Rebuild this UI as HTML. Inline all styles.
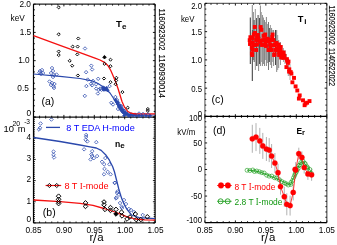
<!DOCTYPE html>
<html><head><meta charset="utf-8"><style>
html,body{margin:0;padding:0;background:#fff;width:337px;height:245px;overflow:hidden}
svg{display:block;will-change:transform}
text{font-family:"Liberation Sans",sans-serif}
</style></head><body>
<svg xmlns="http://www.w3.org/2000/svg" width="337" height="245" viewBox="0 0 337 245">
<rect width="337" height="245" fill="#fff"/>
<line x1="33.5" y1="4.2" x2="155.1" y2="4.2" stroke="#222" stroke-width="1.2"/>
<line x1="33.5" y1="117.1" x2="155.1" y2="117.1" stroke="#111" stroke-width="1.2"/>
<line x1="33.5" y1="222.9" x2="155.1" y2="222.9" stroke="#222" stroke-width="1.2"/>
<line x1="33.5" y1="4.2" x2="33.5" y2="222.9" stroke="#000" stroke-width="1.2"/>
<line x1="155.1" y1="4.2" x2="155.1" y2="222.9" stroke="#000" stroke-width="1.2"/>
<line x1="33.5" y1="117.1" x2="33.5" y2="114.9" stroke="#000" stroke-width="0.9"/>
<line x1="33.5" y1="4.2" x2="33.5" y2="6.4" stroke="#000" stroke-width="0.9"/>
<line x1="39.58" y1="117.1" x2="39.58" y2="115.7" stroke="#000" stroke-width="0.9"/>
<line x1="39.58" y1="4.2" x2="39.58" y2="5.6" stroke="#000" stroke-width="0.9"/>
<line x1="45.66" y1="117.1" x2="45.66" y2="115.7" stroke="#000" stroke-width="0.9"/>
<line x1="45.66" y1="4.2" x2="45.66" y2="5.6" stroke="#000" stroke-width="0.9"/>
<line x1="51.74" y1="117.1" x2="51.74" y2="115.7" stroke="#000" stroke-width="0.9"/>
<line x1="51.74" y1="4.2" x2="51.74" y2="5.6" stroke="#000" stroke-width="0.9"/>
<line x1="57.82" y1="117.1" x2="57.82" y2="115.7" stroke="#000" stroke-width="0.9"/>
<line x1="57.82" y1="4.2" x2="57.82" y2="5.6" stroke="#000" stroke-width="0.9"/>
<line x1="63.9" y1="117.1" x2="63.9" y2="114.9" stroke="#000" stroke-width="0.9"/>
<line x1="63.9" y1="4.2" x2="63.9" y2="6.4" stroke="#000" stroke-width="0.9"/>
<line x1="69.98" y1="117.1" x2="69.98" y2="115.7" stroke="#000" stroke-width="0.9"/>
<line x1="69.98" y1="4.2" x2="69.98" y2="5.6" stroke="#000" stroke-width="0.9"/>
<line x1="76.06" y1="117.1" x2="76.06" y2="115.7" stroke="#000" stroke-width="0.9"/>
<line x1="76.06" y1="4.2" x2="76.06" y2="5.6" stroke="#000" stroke-width="0.9"/>
<line x1="82.14" y1="117.1" x2="82.14" y2="115.7" stroke="#000" stroke-width="0.9"/>
<line x1="82.14" y1="4.2" x2="82.14" y2="5.6" stroke="#000" stroke-width="0.9"/>
<line x1="88.22" y1="117.1" x2="88.22" y2="115.7" stroke="#000" stroke-width="0.9"/>
<line x1="88.22" y1="4.2" x2="88.22" y2="5.6" stroke="#000" stroke-width="0.9"/>
<line x1="94.3" y1="117.1" x2="94.3" y2="114.9" stroke="#000" stroke-width="0.9"/>
<line x1="94.3" y1="4.2" x2="94.3" y2="6.4" stroke="#000" stroke-width="0.9"/>
<line x1="100.38" y1="117.1" x2="100.38" y2="115.7" stroke="#000" stroke-width="0.9"/>
<line x1="100.38" y1="4.2" x2="100.38" y2="5.6" stroke="#000" stroke-width="0.9"/>
<line x1="106.46" y1="117.1" x2="106.46" y2="115.7" stroke="#000" stroke-width="0.9"/>
<line x1="106.46" y1="4.2" x2="106.46" y2="5.6" stroke="#000" stroke-width="0.9"/>
<line x1="112.54" y1="117.1" x2="112.54" y2="115.7" stroke="#000" stroke-width="0.9"/>
<line x1="112.54" y1="4.2" x2="112.54" y2="5.6" stroke="#000" stroke-width="0.9"/>
<line x1="118.62" y1="117.1" x2="118.62" y2="115.7" stroke="#000" stroke-width="0.9"/>
<line x1="118.62" y1="4.2" x2="118.62" y2="5.6" stroke="#000" stroke-width="0.9"/>
<line x1="124.7" y1="117.1" x2="124.7" y2="114.9" stroke="#000" stroke-width="0.9"/>
<line x1="124.7" y1="4.2" x2="124.7" y2="6.4" stroke="#000" stroke-width="0.9"/>
<line x1="130.78" y1="117.1" x2="130.78" y2="115.7" stroke="#000" stroke-width="0.9"/>
<line x1="130.78" y1="4.2" x2="130.78" y2="5.6" stroke="#000" stroke-width="0.9"/>
<line x1="136.86" y1="117.1" x2="136.86" y2="115.7" stroke="#000" stroke-width="0.9"/>
<line x1="136.86" y1="4.2" x2="136.86" y2="5.6" stroke="#000" stroke-width="0.9"/>
<line x1="142.94" y1="117.1" x2="142.94" y2="115.7" stroke="#000" stroke-width="0.9"/>
<line x1="142.94" y1="4.2" x2="142.94" y2="5.6" stroke="#000" stroke-width="0.9"/>
<line x1="149.02" y1="117.1" x2="149.02" y2="115.7" stroke="#000" stroke-width="0.9"/>
<line x1="149.02" y1="4.2" x2="149.02" y2="5.6" stroke="#000" stroke-width="0.9"/>
<line x1="155.1" y1="117.1" x2="155.1" y2="114.9" stroke="#000" stroke-width="0.9"/>
<line x1="155.1" y1="4.2" x2="155.1" y2="6.4" stroke="#000" stroke-width="0.9"/>
<line x1="33.5" y1="222.9" x2="33.5" y2="220.7" stroke="#000" stroke-width="0.9"/>
<line x1="33.5" y1="117.1" x2="33.5" y2="119.3" stroke="#000" stroke-width="0.9"/>
<line x1="39.58" y1="222.9" x2="39.58" y2="221.5" stroke="#000" stroke-width="0.9"/>
<line x1="39.58" y1="117.1" x2="39.58" y2="118.5" stroke="#000" stroke-width="0.9"/>
<line x1="45.66" y1="222.9" x2="45.66" y2="221.5" stroke="#000" stroke-width="0.9"/>
<line x1="45.66" y1="117.1" x2="45.66" y2="118.5" stroke="#000" stroke-width="0.9"/>
<line x1="51.74" y1="222.9" x2="51.74" y2="221.5" stroke="#000" stroke-width="0.9"/>
<line x1="51.74" y1="117.1" x2="51.74" y2="118.5" stroke="#000" stroke-width="0.9"/>
<line x1="57.82" y1="222.9" x2="57.82" y2="221.5" stroke="#000" stroke-width="0.9"/>
<line x1="57.82" y1="117.1" x2="57.82" y2="118.5" stroke="#000" stroke-width="0.9"/>
<line x1="63.9" y1="222.9" x2="63.9" y2="220.7" stroke="#000" stroke-width="0.9"/>
<line x1="63.9" y1="117.1" x2="63.9" y2="119.3" stroke="#000" stroke-width="0.9"/>
<line x1="69.98" y1="222.9" x2="69.98" y2="221.5" stroke="#000" stroke-width="0.9"/>
<line x1="69.98" y1="117.1" x2="69.98" y2="118.5" stroke="#000" stroke-width="0.9"/>
<line x1="76.06" y1="222.9" x2="76.06" y2="221.5" stroke="#000" stroke-width="0.9"/>
<line x1="76.06" y1="117.1" x2="76.06" y2="118.5" stroke="#000" stroke-width="0.9"/>
<line x1="82.14" y1="222.9" x2="82.14" y2="221.5" stroke="#000" stroke-width="0.9"/>
<line x1="82.14" y1="117.1" x2="82.14" y2="118.5" stroke="#000" stroke-width="0.9"/>
<line x1="88.22" y1="222.9" x2="88.22" y2="221.5" stroke="#000" stroke-width="0.9"/>
<line x1="88.22" y1="117.1" x2="88.22" y2="118.5" stroke="#000" stroke-width="0.9"/>
<line x1="94.3" y1="222.9" x2="94.3" y2="220.7" stroke="#000" stroke-width="0.9"/>
<line x1="94.3" y1="117.1" x2="94.3" y2="119.3" stroke="#000" stroke-width="0.9"/>
<line x1="100.38" y1="222.9" x2="100.38" y2="221.5" stroke="#000" stroke-width="0.9"/>
<line x1="100.38" y1="117.1" x2="100.38" y2="118.5" stroke="#000" stroke-width="0.9"/>
<line x1="106.46" y1="222.9" x2="106.46" y2="221.5" stroke="#000" stroke-width="0.9"/>
<line x1="106.46" y1="117.1" x2="106.46" y2="118.5" stroke="#000" stroke-width="0.9"/>
<line x1="112.54" y1="222.9" x2="112.54" y2="221.5" stroke="#000" stroke-width="0.9"/>
<line x1="112.54" y1="117.1" x2="112.54" y2="118.5" stroke="#000" stroke-width="0.9"/>
<line x1="118.62" y1="222.9" x2="118.62" y2="221.5" stroke="#000" stroke-width="0.9"/>
<line x1="118.62" y1="117.1" x2="118.62" y2="118.5" stroke="#000" stroke-width="0.9"/>
<line x1="124.7" y1="222.9" x2="124.7" y2="220.7" stroke="#000" stroke-width="0.9"/>
<line x1="124.7" y1="117.1" x2="124.7" y2="119.3" stroke="#000" stroke-width="0.9"/>
<line x1="130.78" y1="222.9" x2="130.78" y2="221.5" stroke="#000" stroke-width="0.9"/>
<line x1="130.78" y1="117.1" x2="130.78" y2="118.5" stroke="#000" stroke-width="0.9"/>
<line x1="136.86" y1="222.9" x2="136.86" y2="221.5" stroke="#000" stroke-width="0.9"/>
<line x1="136.86" y1="117.1" x2="136.86" y2="118.5" stroke="#000" stroke-width="0.9"/>
<line x1="142.94" y1="222.9" x2="142.94" y2="221.5" stroke="#000" stroke-width="0.9"/>
<line x1="142.94" y1="117.1" x2="142.94" y2="118.5" stroke="#000" stroke-width="0.9"/>
<line x1="149.02" y1="222.9" x2="149.02" y2="221.5" stroke="#000" stroke-width="0.9"/>
<line x1="149.02" y1="117.1" x2="149.02" y2="118.5" stroke="#000" stroke-width="0.9"/>
<line x1="155.1" y1="222.9" x2="155.1" y2="220.7" stroke="#000" stroke-width="0.9"/>
<line x1="155.1" y1="117.1" x2="155.1" y2="119.3" stroke="#000" stroke-width="0.9"/>
<line x1="33.5" y1="4.2" x2="35.7" y2="4.2" stroke="#000" stroke-width="0.9"/>
<line x1="155.1" y1="4.2" x2="152.9" y2="4.2" stroke="#000" stroke-width="0.9"/>
<line x1="33.5" y1="9.84" x2="34.9" y2="9.84" stroke="#000" stroke-width="0.9"/>
<line x1="155.1" y1="9.84" x2="153.7" y2="9.84" stroke="#000" stroke-width="0.9"/>
<line x1="33.5" y1="15.49" x2="34.9" y2="15.49" stroke="#000" stroke-width="0.9"/>
<line x1="155.1" y1="15.49" x2="153.7" y2="15.49" stroke="#000" stroke-width="0.9"/>
<line x1="33.5" y1="21.13" x2="34.9" y2="21.13" stroke="#000" stroke-width="0.9"/>
<line x1="155.1" y1="21.13" x2="153.7" y2="21.13" stroke="#000" stroke-width="0.9"/>
<line x1="33.5" y1="26.78" x2="34.9" y2="26.78" stroke="#000" stroke-width="0.9"/>
<line x1="155.1" y1="26.78" x2="153.7" y2="26.78" stroke="#000" stroke-width="0.9"/>
<line x1="33.5" y1="32.43" x2="35.7" y2="32.43" stroke="#000" stroke-width="0.9"/>
<line x1="155.1" y1="32.43" x2="152.9" y2="32.43" stroke="#000" stroke-width="0.9"/>
<line x1="33.5" y1="38.07" x2="34.9" y2="38.07" stroke="#000" stroke-width="0.9"/>
<line x1="155.1" y1="38.07" x2="153.7" y2="38.07" stroke="#000" stroke-width="0.9"/>
<line x1="33.5" y1="43.72" x2="34.9" y2="43.72" stroke="#000" stroke-width="0.9"/>
<line x1="155.1" y1="43.72" x2="153.7" y2="43.72" stroke="#000" stroke-width="0.9"/>
<line x1="33.5" y1="49.36" x2="34.9" y2="49.36" stroke="#000" stroke-width="0.9"/>
<line x1="155.1" y1="49.36" x2="153.7" y2="49.36" stroke="#000" stroke-width="0.9"/>
<line x1="33.5" y1="55" x2="34.9" y2="55" stroke="#000" stroke-width="0.9"/>
<line x1="155.1" y1="55" x2="153.7" y2="55" stroke="#000" stroke-width="0.9"/>
<line x1="33.5" y1="60.65" x2="35.7" y2="60.65" stroke="#000" stroke-width="0.9"/>
<line x1="155.1" y1="60.65" x2="152.9" y2="60.65" stroke="#000" stroke-width="0.9"/>
<line x1="33.5" y1="66.29" x2="34.9" y2="66.29" stroke="#000" stroke-width="0.9"/>
<line x1="155.1" y1="66.29" x2="153.7" y2="66.29" stroke="#000" stroke-width="0.9"/>
<line x1="33.5" y1="71.94" x2="34.9" y2="71.94" stroke="#000" stroke-width="0.9"/>
<line x1="155.1" y1="71.94" x2="153.7" y2="71.94" stroke="#000" stroke-width="0.9"/>
<line x1="33.5" y1="77.58" x2="34.9" y2="77.58" stroke="#000" stroke-width="0.9"/>
<line x1="155.1" y1="77.58" x2="153.7" y2="77.58" stroke="#000" stroke-width="0.9"/>
<line x1="33.5" y1="83.23" x2="34.9" y2="83.23" stroke="#000" stroke-width="0.9"/>
<line x1="155.1" y1="83.23" x2="153.7" y2="83.23" stroke="#000" stroke-width="0.9"/>
<line x1="33.5" y1="88.87" x2="35.7" y2="88.87" stroke="#000" stroke-width="0.9"/>
<line x1="155.1" y1="88.87" x2="152.9" y2="88.87" stroke="#000" stroke-width="0.9"/>
<line x1="33.5" y1="94.52" x2="34.9" y2="94.52" stroke="#000" stroke-width="0.9"/>
<line x1="155.1" y1="94.52" x2="153.7" y2="94.52" stroke="#000" stroke-width="0.9"/>
<line x1="33.5" y1="100.17" x2="34.9" y2="100.17" stroke="#000" stroke-width="0.9"/>
<line x1="155.1" y1="100.17" x2="153.7" y2="100.17" stroke="#000" stroke-width="0.9"/>
<line x1="33.5" y1="105.81" x2="34.9" y2="105.81" stroke="#000" stroke-width="0.9"/>
<line x1="155.1" y1="105.81" x2="153.7" y2="105.81" stroke="#000" stroke-width="0.9"/>
<line x1="33.5" y1="111.45" x2="34.9" y2="111.45" stroke="#000" stroke-width="0.9"/>
<line x1="155.1" y1="111.45" x2="153.7" y2="111.45" stroke="#000" stroke-width="0.9"/>
<line x1="33.5" y1="117.1" x2="35.7" y2="117.1" stroke="#000" stroke-width="0.9"/>
<line x1="155.1" y1="117.1" x2="152.9" y2="117.1" stroke="#000" stroke-width="0.9"/>
<line x1="33.5" y1="117.1" x2="35.7" y2="117.1" stroke="#000" stroke-width="0.9"/>
<line x1="155.1" y1="117.1" x2="152.9" y2="117.1" stroke="#000" stroke-width="0.9"/>
<line x1="33.5" y1="119.22" x2="34.9" y2="119.22" stroke="#000" stroke-width="0.9"/>
<line x1="155.1" y1="119.22" x2="153.7" y2="119.22" stroke="#000" stroke-width="0.9"/>
<line x1="33.5" y1="121.33" x2="34.9" y2="121.33" stroke="#000" stroke-width="0.9"/>
<line x1="155.1" y1="121.33" x2="153.7" y2="121.33" stroke="#000" stroke-width="0.9"/>
<line x1="33.5" y1="123.45" x2="34.9" y2="123.45" stroke="#000" stroke-width="0.9"/>
<line x1="155.1" y1="123.45" x2="153.7" y2="123.45" stroke="#000" stroke-width="0.9"/>
<line x1="33.5" y1="125.56" x2="34.9" y2="125.56" stroke="#000" stroke-width="0.9"/>
<line x1="155.1" y1="125.56" x2="153.7" y2="125.56" stroke="#000" stroke-width="0.9"/>
<line x1="33.5" y1="127.68" x2="34.9" y2="127.68" stroke="#000" stroke-width="0.9"/>
<line x1="155.1" y1="127.68" x2="153.7" y2="127.68" stroke="#000" stroke-width="0.9"/>
<line x1="33.5" y1="129.8" x2="34.9" y2="129.8" stroke="#000" stroke-width="0.9"/>
<line x1="155.1" y1="129.8" x2="153.7" y2="129.8" stroke="#000" stroke-width="0.9"/>
<line x1="33.5" y1="131.91" x2="34.9" y2="131.91" stroke="#000" stroke-width="0.9"/>
<line x1="155.1" y1="131.91" x2="153.7" y2="131.91" stroke="#000" stroke-width="0.9"/>
<line x1="33.5" y1="134.03" x2="34.9" y2="134.03" stroke="#000" stroke-width="0.9"/>
<line x1="155.1" y1="134.03" x2="153.7" y2="134.03" stroke="#000" stroke-width="0.9"/>
<line x1="33.5" y1="136.14" x2="34.9" y2="136.14" stroke="#000" stroke-width="0.9"/>
<line x1="155.1" y1="136.14" x2="153.7" y2="136.14" stroke="#000" stroke-width="0.9"/>
<line x1="33.5" y1="138.26" x2="35.7" y2="138.26" stroke="#000" stroke-width="0.9"/>
<line x1="155.1" y1="138.26" x2="152.9" y2="138.26" stroke="#000" stroke-width="0.9"/>
<line x1="33.5" y1="140.38" x2="34.9" y2="140.38" stroke="#000" stroke-width="0.9"/>
<line x1="155.1" y1="140.38" x2="153.7" y2="140.38" stroke="#000" stroke-width="0.9"/>
<line x1="33.5" y1="142.49" x2="34.9" y2="142.49" stroke="#000" stroke-width="0.9"/>
<line x1="155.1" y1="142.49" x2="153.7" y2="142.49" stroke="#000" stroke-width="0.9"/>
<line x1="33.5" y1="144.61" x2="34.9" y2="144.61" stroke="#000" stroke-width="0.9"/>
<line x1="155.1" y1="144.61" x2="153.7" y2="144.61" stroke="#000" stroke-width="0.9"/>
<line x1="33.5" y1="146.72" x2="34.9" y2="146.72" stroke="#000" stroke-width="0.9"/>
<line x1="155.1" y1="146.72" x2="153.7" y2="146.72" stroke="#000" stroke-width="0.9"/>
<line x1="33.5" y1="148.84" x2="34.9" y2="148.84" stroke="#000" stroke-width="0.9"/>
<line x1="155.1" y1="148.84" x2="153.7" y2="148.84" stroke="#000" stroke-width="0.9"/>
<line x1="33.5" y1="150.96" x2="34.9" y2="150.96" stroke="#000" stroke-width="0.9"/>
<line x1="155.1" y1="150.96" x2="153.7" y2="150.96" stroke="#000" stroke-width="0.9"/>
<line x1="33.5" y1="153.07" x2="34.9" y2="153.07" stroke="#000" stroke-width="0.9"/>
<line x1="155.1" y1="153.07" x2="153.7" y2="153.07" stroke="#000" stroke-width="0.9"/>
<line x1="33.5" y1="155.19" x2="34.9" y2="155.19" stroke="#000" stroke-width="0.9"/>
<line x1="155.1" y1="155.19" x2="153.7" y2="155.19" stroke="#000" stroke-width="0.9"/>
<line x1="33.5" y1="157.3" x2="34.9" y2="157.3" stroke="#000" stroke-width="0.9"/>
<line x1="155.1" y1="157.3" x2="153.7" y2="157.3" stroke="#000" stroke-width="0.9"/>
<line x1="33.5" y1="159.42" x2="35.7" y2="159.42" stroke="#000" stroke-width="0.9"/>
<line x1="155.1" y1="159.42" x2="152.9" y2="159.42" stroke="#000" stroke-width="0.9"/>
<line x1="33.5" y1="161.54" x2="34.9" y2="161.54" stroke="#000" stroke-width="0.9"/>
<line x1="155.1" y1="161.54" x2="153.7" y2="161.54" stroke="#000" stroke-width="0.9"/>
<line x1="33.5" y1="163.65" x2="34.9" y2="163.65" stroke="#000" stroke-width="0.9"/>
<line x1="155.1" y1="163.65" x2="153.7" y2="163.65" stroke="#000" stroke-width="0.9"/>
<line x1="33.5" y1="165.77" x2="34.9" y2="165.77" stroke="#000" stroke-width="0.9"/>
<line x1="155.1" y1="165.77" x2="153.7" y2="165.77" stroke="#000" stroke-width="0.9"/>
<line x1="33.5" y1="167.88" x2="34.9" y2="167.88" stroke="#000" stroke-width="0.9"/>
<line x1="155.1" y1="167.88" x2="153.7" y2="167.88" stroke="#000" stroke-width="0.9"/>
<line x1="33.5" y1="170" x2="34.9" y2="170" stroke="#000" stroke-width="0.9"/>
<line x1="155.1" y1="170" x2="153.7" y2="170" stroke="#000" stroke-width="0.9"/>
<line x1="33.5" y1="172.12" x2="34.9" y2="172.12" stroke="#000" stroke-width="0.9"/>
<line x1="155.1" y1="172.12" x2="153.7" y2="172.12" stroke="#000" stroke-width="0.9"/>
<line x1="33.5" y1="174.23" x2="34.9" y2="174.23" stroke="#000" stroke-width="0.9"/>
<line x1="155.1" y1="174.23" x2="153.7" y2="174.23" stroke="#000" stroke-width="0.9"/>
<line x1="33.5" y1="176.35" x2="34.9" y2="176.35" stroke="#000" stroke-width="0.9"/>
<line x1="155.1" y1="176.35" x2="153.7" y2="176.35" stroke="#000" stroke-width="0.9"/>
<line x1="33.5" y1="178.46" x2="34.9" y2="178.46" stroke="#000" stroke-width="0.9"/>
<line x1="155.1" y1="178.46" x2="153.7" y2="178.46" stroke="#000" stroke-width="0.9"/>
<line x1="33.5" y1="180.58" x2="35.7" y2="180.58" stroke="#000" stroke-width="0.9"/>
<line x1="155.1" y1="180.58" x2="152.9" y2="180.58" stroke="#000" stroke-width="0.9"/>
<line x1="33.5" y1="182.7" x2="34.9" y2="182.7" stroke="#000" stroke-width="0.9"/>
<line x1="155.1" y1="182.7" x2="153.7" y2="182.7" stroke="#000" stroke-width="0.9"/>
<line x1="33.5" y1="184.81" x2="34.9" y2="184.81" stroke="#000" stroke-width="0.9"/>
<line x1="155.1" y1="184.81" x2="153.7" y2="184.81" stroke="#000" stroke-width="0.9"/>
<line x1="33.5" y1="186.93" x2="34.9" y2="186.93" stroke="#000" stroke-width="0.9"/>
<line x1="155.1" y1="186.93" x2="153.7" y2="186.93" stroke="#000" stroke-width="0.9"/>
<line x1="33.5" y1="189.04" x2="34.9" y2="189.04" stroke="#000" stroke-width="0.9"/>
<line x1="155.1" y1="189.04" x2="153.7" y2="189.04" stroke="#000" stroke-width="0.9"/>
<line x1="33.5" y1="191.16" x2="34.9" y2="191.16" stroke="#000" stroke-width="0.9"/>
<line x1="155.1" y1="191.16" x2="153.7" y2="191.16" stroke="#000" stroke-width="0.9"/>
<line x1="33.5" y1="193.28" x2="34.9" y2="193.28" stroke="#000" stroke-width="0.9"/>
<line x1="155.1" y1="193.28" x2="153.7" y2="193.28" stroke="#000" stroke-width="0.9"/>
<line x1="33.5" y1="195.39" x2="34.9" y2="195.39" stroke="#000" stroke-width="0.9"/>
<line x1="155.1" y1="195.39" x2="153.7" y2="195.39" stroke="#000" stroke-width="0.9"/>
<line x1="33.5" y1="197.51" x2="34.9" y2="197.51" stroke="#000" stroke-width="0.9"/>
<line x1="155.1" y1="197.51" x2="153.7" y2="197.51" stroke="#000" stroke-width="0.9"/>
<line x1="33.5" y1="199.62" x2="34.9" y2="199.62" stroke="#000" stroke-width="0.9"/>
<line x1="155.1" y1="199.62" x2="153.7" y2="199.62" stroke="#000" stroke-width="0.9"/>
<line x1="33.5" y1="201.74" x2="35.7" y2="201.74" stroke="#000" stroke-width="0.9"/>
<line x1="155.1" y1="201.74" x2="152.9" y2="201.74" stroke="#000" stroke-width="0.9"/>
<line x1="33.5" y1="203.86" x2="34.9" y2="203.86" stroke="#000" stroke-width="0.9"/>
<line x1="155.1" y1="203.86" x2="153.7" y2="203.86" stroke="#000" stroke-width="0.9"/>
<line x1="33.5" y1="205.97" x2="34.9" y2="205.97" stroke="#000" stroke-width="0.9"/>
<line x1="155.1" y1="205.97" x2="153.7" y2="205.97" stroke="#000" stroke-width="0.9"/>
<line x1="33.5" y1="208.09" x2="34.9" y2="208.09" stroke="#000" stroke-width="0.9"/>
<line x1="155.1" y1="208.09" x2="153.7" y2="208.09" stroke="#000" stroke-width="0.9"/>
<line x1="33.5" y1="210.2" x2="34.9" y2="210.2" stroke="#000" stroke-width="0.9"/>
<line x1="155.1" y1="210.2" x2="153.7" y2="210.2" stroke="#000" stroke-width="0.9"/>
<line x1="33.5" y1="212.32" x2="34.9" y2="212.32" stroke="#000" stroke-width="0.9"/>
<line x1="155.1" y1="212.32" x2="153.7" y2="212.32" stroke="#000" stroke-width="0.9"/>
<line x1="33.5" y1="214.44" x2="34.9" y2="214.44" stroke="#000" stroke-width="0.9"/>
<line x1="155.1" y1="214.44" x2="153.7" y2="214.44" stroke="#000" stroke-width="0.9"/>
<line x1="33.5" y1="216.55" x2="34.9" y2="216.55" stroke="#000" stroke-width="0.9"/>
<line x1="155.1" y1="216.55" x2="153.7" y2="216.55" stroke="#000" stroke-width="0.9"/>
<line x1="33.5" y1="218.67" x2="34.9" y2="218.67" stroke="#000" stroke-width="0.9"/>
<line x1="155.1" y1="218.67" x2="153.7" y2="218.67" stroke="#000" stroke-width="0.9"/>
<line x1="33.5" y1="220.78" x2="34.9" y2="220.78" stroke="#000" stroke-width="0.9"/>
<line x1="155.1" y1="220.78" x2="153.7" y2="220.78" stroke="#000" stroke-width="0.9"/>
<line x1="33.5" y1="222.9" x2="35.7" y2="222.9" stroke="#000" stroke-width="0.9"/>
<line x1="155.1" y1="222.9" x2="152.9" y2="222.9" stroke="#000" stroke-width="0.9"/>
<line x1="204.9" y1="3.4" x2="326.8" y2="3.4" stroke="#666" stroke-width="1.3"/>
<line x1="204.9" y1="116.4" x2="326.8" y2="116.4" stroke="#000" stroke-width="1.2"/>
<line x1="204.9" y1="222.6" x2="326.8" y2="222.6" stroke="#000" stroke-width="1.2"/>
<line x1="204.9" y1="3.4" x2="204.9" y2="222.6" stroke="#888" stroke-width="1.5"/>
<line x1="326.8" y1="3.4" x2="326.8" y2="222.6" stroke="#777" stroke-width="1.5"/>
<line x1="204.9" y1="116.4" x2="204.9" y2="114.2" stroke="#000" stroke-width="0.9"/>
<line x1="204.9" y1="3.4" x2="204.9" y2="5.6" stroke="#000" stroke-width="0.9"/>
<line x1="211" y1="116.4" x2="211" y2="115" stroke="#000" stroke-width="0.9"/>
<line x1="211" y1="3.4" x2="211" y2="4.8" stroke="#000" stroke-width="0.9"/>
<line x1="217.09" y1="116.4" x2="217.09" y2="115" stroke="#000" stroke-width="0.9"/>
<line x1="217.09" y1="3.4" x2="217.09" y2="4.8" stroke="#000" stroke-width="0.9"/>
<line x1="223.19" y1="116.4" x2="223.19" y2="115" stroke="#000" stroke-width="0.9"/>
<line x1="223.19" y1="3.4" x2="223.19" y2="4.8" stroke="#000" stroke-width="0.9"/>
<line x1="229.28" y1="116.4" x2="229.28" y2="115" stroke="#000" stroke-width="0.9"/>
<line x1="229.28" y1="3.4" x2="229.28" y2="4.8" stroke="#000" stroke-width="0.9"/>
<line x1="235.38" y1="116.4" x2="235.38" y2="114.2" stroke="#000" stroke-width="0.9"/>
<line x1="235.38" y1="3.4" x2="235.38" y2="5.6" stroke="#000" stroke-width="0.9"/>
<line x1="241.47" y1="116.4" x2="241.47" y2="115" stroke="#000" stroke-width="0.9"/>
<line x1="241.47" y1="3.4" x2="241.47" y2="4.8" stroke="#000" stroke-width="0.9"/>
<line x1="247.56" y1="116.4" x2="247.56" y2="115" stroke="#000" stroke-width="0.9"/>
<line x1="247.56" y1="3.4" x2="247.56" y2="4.8" stroke="#000" stroke-width="0.9"/>
<line x1="253.66" y1="116.4" x2="253.66" y2="115" stroke="#000" stroke-width="0.9"/>
<line x1="253.66" y1="3.4" x2="253.66" y2="4.8" stroke="#000" stroke-width="0.9"/>
<line x1="259.75" y1="116.4" x2="259.75" y2="115" stroke="#000" stroke-width="0.9"/>
<line x1="259.75" y1="3.4" x2="259.75" y2="4.8" stroke="#000" stroke-width="0.9"/>
<line x1="265.85" y1="116.4" x2="265.85" y2="114.2" stroke="#000" stroke-width="0.9"/>
<line x1="265.85" y1="3.4" x2="265.85" y2="5.6" stroke="#000" stroke-width="0.9"/>
<line x1="271.94" y1="116.4" x2="271.94" y2="115" stroke="#000" stroke-width="0.9"/>
<line x1="271.94" y1="3.4" x2="271.94" y2="4.8" stroke="#000" stroke-width="0.9"/>
<line x1="278.04" y1="116.4" x2="278.04" y2="115" stroke="#000" stroke-width="0.9"/>
<line x1="278.04" y1="3.4" x2="278.04" y2="4.8" stroke="#000" stroke-width="0.9"/>
<line x1="284.13" y1="116.4" x2="284.13" y2="115" stroke="#000" stroke-width="0.9"/>
<line x1="284.13" y1="3.4" x2="284.13" y2="4.8" stroke="#000" stroke-width="0.9"/>
<line x1="290.23" y1="116.4" x2="290.23" y2="115" stroke="#000" stroke-width="0.9"/>
<line x1="290.23" y1="3.4" x2="290.23" y2="4.8" stroke="#000" stroke-width="0.9"/>
<line x1="296.32" y1="116.4" x2="296.32" y2="114.2" stroke="#000" stroke-width="0.9"/>
<line x1="296.32" y1="3.4" x2="296.32" y2="5.6" stroke="#000" stroke-width="0.9"/>
<line x1="302.42" y1="116.4" x2="302.42" y2="115" stroke="#000" stroke-width="0.9"/>
<line x1="302.42" y1="3.4" x2="302.42" y2="4.8" stroke="#000" stroke-width="0.9"/>
<line x1="308.51" y1="116.4" x2="308.51" y2="115" stroke="#000" stroke-width="0.9"/>
<line x1="308.51" y1="3.4" x2="308.51" y2="4.8" stroke="#000" stroke-width="0.9"/>
<line x1="314.61" y1="116.4" x2="314.61" y2="115" stroke="#000" stroke-width="0.9"/>
<line x1="314.61" y1="3.4" x2="314.61" y2="4.8" stroke="#000" stroke-width="0.9"/>
<line x1="320.7" y1="116.4" x2="320.7" y2="115" stroke="#000" stroke-width="0.9"/>
<line x1="320.7" y1="3.4" x2="320.7" y2="4.8" stroke="#000" stroke-width="0.9"/>
<line x1="326.8" y1="116.4" x2="326.8" y2="114.2" stroke="#000" stroke-width="0.9"/>
<line x1="326.8" y1="3.4" x2="326.8" y2="5.6" stroke="#000" stroke-width="0.9"/>
<line x1="204.9" y1="222.6" x2="204.9" y2="220.4" stroke="#000" stroke-width="0.9"/>
<line x1="204.9" y1="116.4" x2="204.9" y2="118.6" stroke="#000" stroke-width="0.9"/>
<line x1="211" y1="222.6" x2="211" y2="221.2" stroke="#000" stroke-width="0.9"/>
<line x1="211" y1="116.4" x2="211" y2="117.8" stroke="#000" stroke-width="0.9"/>
<line x1="217.09" y1="222.6" x2="217.09" y2="221.2" stroke="#000" stroke-width="0.9"/>
<line x1="217.09" y1="116.4" x2="217.09" y2="117.8" stroke="#000" stroke-width="0.9"/>
<line x1="223.19" y1="222.6" x2="223.19" y2="221.2" stroke="#000" stroke-width="0.9"/>
<line x1="223.19" y1="116.4" x2="223.19" y2="117.8" stroke="#000" stroke-width="0.9"/>
<line x1="229.28" y1="222.6" x2="229.28" y2="221.2" stroke="#000" stroke-width="0.9"/>
<line x1="229.28" y1="116.4" x2="229.28" y2="117.8" stroke="#000" stroke-width="0.9"/>
<line x1="235.38" y1="222.6" x2="235.38" y2="220.4" stroke="#000" stroke-width="0.9"/>
<line x1="235.38" y1="116.4" x2="235.38" y2="118.6" stroke="#000" stroke-width="0.9"/>
<line x1="241.47" y1="222.6" x2="241.47" y2="221.2" stroke="#000" stroke-width="0.9"/>
<line x1="241.47" y1="116.4" x2="241.47" y2="117.8" stroke="#000" stroke-width="0.9"/>
<line x1="247.56" y1="222.6" x2="247.56" y2="221.2" stroke="#000" stroke-width="0.9"/>
<line x1="247.56" y1="116.4" x2="247.56" y2="117.8" stroke="#000" stroke-width="0.9"/>
<line x1="253.66" y1="222.6" x2="253.66" y2="221.2" stroke="#000" stroke-width="0.9"/>
<line x1="253.66" y1="116.4" x2="253.66" y2="117.8" stroke="#000" stroke-width="0.9"/>
<line x1="259.75" y1="222.6" x2="259.75" y2="221.2" stroke="#000" stroke-width="0.9"/>
<line x1="259.75" y1="116.4" x2="259.75" y2="117.8" stroke="#000" stroke-width="0.9"/>
<line x1="265.85" y1="222.6" x2="265.85" y2="220.4" stroke="#000" stroke-width="0.9"/>
<line x1="265.85" y1="116.4" x2="265.85" y2="118.6" stroke="#000" stroke-width="0.9"/>
<line x1="271.94" y1="222.6" x2="271.94" y2="221.2" stroke="#000" stroke-width="0.9"/>
<line x1="271.94" y1="116.4" x2="271.94" y2="117.8" stroke="#000" stroke-width="0.9"/>
<line x1="278.04" y1="222.6" x2="278.04" y2="221.2" stroke="#000" stroke-width="0.9"/>
<line x1="278.04" y1="116.4" x2="278.04" y2="117.8" stroke="#000" stroke-width="0.9"/>
<line x1="284.13" y1="222.6" x2="284.13" y2="221.2" stroke="#000" stroke-width="0.9"/>
<line x1="284.13" y1="116.4" x2="284.13" y2="117.8" stroke="#000" stroke-width="0.9"/>
<line x1="290.23" y1="222.6" x2="290.23" y2="221.2" stroke="#000" stroke-width="0.9"/>
<line x1="290.23" y1="116.4" x2="290.23" y2="117.8" stroke="#000" stroke-width="0.9"/>
<line x1="296.32" y1="222.6" x2="296.32" y2="220.4" stroke="#000" stroke-width="0.9"/>
<line x1="296.32" y1="116.4" x2="296.32" y2="118.6" stroke="#000" stroke-width="0.9"/>
<line x1="302.42" y1="222.6" x2="302.42" y2="221.2" stroke="#000" stroke-width="0.9"/>
<line x1="302.42" y1="116.4" x2="302.42" y2="117.8" stroke="#000" stroke-width="0.9"/>
<line x1="308.51" y1="222.6" x2="308.51" y2="221.2" stroke="#000" stroke-width="0.9"/>
<line x1="308.51" y1="116.4" x2="308.51" y2="117.8" stroke="#000" stroke-width="0.9"/>
<line x1="314.61" y1="222.6" x2="314.61" y2="221.2" stroke="#000" stroke-width="0.9"/>
<line x1="314.61" y1="116.4" x2="314.61" y2="117.8" stroke="#000" stroke-width="0.9"/>
<line x1="320.7" y1="222.6" x2="320.7" y2="221.2" stroke="#000" stroke-width="0.9"/>
<line x1="320.7" y1="116.4" x2="320.7" y2="117.8" stroke="#000" stroke-width="0.9"/>
<line x1="326.8" y1="222.6" x2="326.8" y2="220.4" stroke="#000" stroke-width="0.9"/>
<line x1="326.8" y1="116.4" x2="326.8" y2="118.6" stroke="#000" stroke-width="0.9"/>
<line x1="204.9" y1="3.4" x2="207.1" y2="3.4" stroke="#000" stroke-width="0.9"/>
<line x1="326.8" y1="3.4" x2="324.6" y2="3.4" stroke="#000" stroke-width="0.9"/>
<line x1="204.9" y1="9.05" x2="206.3" y2="9.05" stroke="#000" stroke-width="0.9"/>
<line x1="326.8" y1="9.05" x2="325.4" y2="9.05" stroke="#000" stroke-width="0.9"/>
<line x1="204.9" y1="14.7" x2="206.3" y2="14.7" stroke="#000" stroke-width="0.9"/>
<line x1="326.8" y1="14.7" x2="325.4" y2="14.7" stroke="#000" stroke-width="0.9"/>
<line x1="204.9" y1="20.35" x2="206.3" y2="20.35" stroke="#000" stroke-width="0.9"/>
<line x1="326.8" y1="20.35" x2="325.4" y2="20.35" stroke="#000" stroke-width="0.9"/>
<line x1="204.9" y1="26" x2="206.3" y2="26" stroke="#000" stroke-width="0.9"/>
<line x1="326.8" y1="26" x2="325.4" y2="26" stroke="#000" stroke-width="0.9"/>
<line x1="204.9" y1="31.65" x2="207.1" y2="31.65" stroke="#000" stroke-width="0.9"/>
<line x1="326.8" y1="31.65" x2="324.6" y2="31.65" stroke="#000" stroke-width="0.9"/>
<line x1="204.9" y1="37.3" x2="206.3" y2="37.3" stroke="#000" stroke-width="0.9"/>
<line x1="326.8" y1="37.3" x2="325.4" y2="37.3" stroke="#000" stroke-width="0.9"/>
<line x1="204.9" y1="42.95" x2="206.3" y2="42.95" stroke="#000" stroke-width="0.9"/>
<line x1="326.8" y1="42.95" x2="325.4" y2="42.95" stroke="#000" stroke-width="0.9"/>
<line x1="204.9" y1="48.6" x2="206.3" y2="48.6" stroke="#000" stroke-width="0.9"/>
<line x1="326.8" y1="48.6" x2="325.4" y2="48.6" stroke="#000" stroke-width="0.9"/>
<line x1="204.9" y1="54.25" x2="206.3" y2="54.25" stroke="#000" stroke-width="0.9"/>
<line x1="326.8" y1="54.25" x2="325.4" y2="54.25" stroke="#000" stroke-width="0.9"/>
<line x1="204.9" y1="59.9" x2="207.1" y2="59.9" stroke="#000" stroke-width="0.9"/>
<line x1="326.8" y1="59.9" x2="324.6" y2="59.9" stroke="#000" stroke-width="0.9"/>
<line x1="204.9" y1="65.55" x2="206.3" y2="65.55" stroke="#000" stroke-width="0.9"/>
<line x1="326.8" y1="65.55" x2="325.4" y2="65.55" stroke="#000" stroke-width="0.9"/>
<line x1="204.9" y1="71.2" x2="206.3" y2="71.2" stroke="#000" stroke-width="0.9"/>
<line x1="326.8" y1="71.2" x2="325.4" y2="71.2" stroke="#000" stroke-width="0.9"/>
<line x1="204.9" y1="76.85" x2="206.3" y2="76.85" stroke="#000" stroke-width="0.9"/>
<line x1="326.8" y1="76.85" x2="325.4" y2="76.85" stroke="#000" stroke-width="0.9"/>
<line x1="204.9" y1="82.5" x2="206.3" y2="82.5" stroke="#000" stroke-width="0.9"/>
<line x1="326.8" y1="82.5" x2="325.4" y2="82.5" stroke="#000" stroke-width="0.9"/>
<line x1="204.9" y1="88.15" x2="207.1" y2="88.15" stroke="#000" stroke-width="0.9"/>
<line x1="326.8" y1="88.15" x2="324.6" y2="88.15" stroke="#000" stroke-width="0.9"/>
<line x1="204.9" y1="93.8" x2="206.3" y2="93.8" stroke="#000" stroke-width="0.9"/>
<line x1="326.8" y1="93.8" x2="325.4" y2="93.8" stroke="#000" stroke-width="0.9"/>
<line x1="204.9" y1="99.45" x2="206.3" y2="99.45" stroke="#000" stroke-width="0.9"/>
<line x1="326.8" y1="99.45" x2="325.4" y2="99.45" stroke="#000" stroke-width="0.9"/>
<line x1="204.9" y1="105.1" x2="206.3" y2="105.1" stroke="#000" stroke-width="0.9"/>
<line x1="326.8" y1="105.1" x2="325.4" y2="105.1" stroke="#000" stroke-width="0.9"/>
<line x1="204.9" y1="110.75" x2="206.3" y2="110.75" stroke="#000" stroke-width="0.9"/>
<line x1="326.8" y1="110.75" x2="325.4" y2="110.75" stroke="#000" stroke-width="0.9"/>
<line x1="204.9" y1="116.4" x2="207.1" y2="116.4" stroke="#000" stroke-width="0.9"/>
<line x1="326.8" y1="116.4" x2="324.6" y2="116.4" stroke="#000" stroke-width="0.9"/>
<line x1="204.9" y1="116.4" x2="207.1" y2="116.4" stroke="#000" stroke-width="0.9"/>
<line x1="326.8" y1="116.4" x2="324.6" y2="116.4" stroke="#000" stroke-width="0.9"/>
<line x1="204.9" y1="121.71" x2="206.3" y2="121.71" stroke="#000" stroke-width="0.9"/>
<line x1="326.8" y1="121.71" x2="325.4" y2="121.71" stroke="#000" stroke-width="0.9"/>
<line x1="204.9" y1="127.02" x2="206.3" y2="127.02" stroke="#000" stroke-width="0.9"/>
<line x1="326.8" y1="127.02" x2="325.4" y2="127.02" stroke="#000" stroke-width="0.9"/>
<line x1="204.9" y1="132.33" x2="206.3" y2="132.33" stroke="#000" stroke-width="0.9"/>
<line x1="326.8" y1="132.33" x2="325.4" y2="132.33" stroke="#000" stroke-width="0.9"/>
<line x1="204.9" y1="137.64" x2="206.3" y2="137.64" stroke="#000" stroke-width="0.9"/>
<line x1="326.8" y1="137.64" x2="325.4" y2="137.64" stroke="#000" stroke-width="0.9"/>
<line x1="204.9" y1="142.95" x2="207.1" y2="142.95" stroke="#000" stroke-width="0.9"/>
<line x1="326.8" y1="142.95" x2="324.6" y2="142.95" stroke="#000" stroke-width="0.9"/>
<line x1="204.9" y1="148.26" x2="206.3" y2="148.26" stroke="#000" stroke-width="0.9"/>
<line x1="326.8" y1="148.26" x2="325.4" y2="148.26" stroke="#000" stroke-width="0.9"/>
<line x1="204.9" y1="153.57" x2="206.3" y2="153.57" stroke="#000" stroke-width="0.9"/>
<line x1="326.8" y1="153.57" x2="325.4" y2="153.57" stroke="#000" stroke-width="0.9"/>
<line x1="204.9" y1="158.88" x2="206.3" y2="158.88" stroke="#000" stroke-width="0.9"/>
<line x1="326.8" y1="158.88" x2="325.4" y2="158.88" stroke="#000" stroke-width="0.9"/>
<line x1="204.9" y1="164.19" x2="206.3" y2="164.19" stroke="#000" stroke-width="0.9"/>
<line x1="326.8" y1="164.19" x2="325.4" y2="164.19" stroke="#000" stroke-width="0.9"/>
<line x1="204.9" y1="169.5" x2="207.1" y2="169.5" stroke="#000" stroke-width="0.9"/>
<line x1="326.8" y1="169.5" x2="324.6" y2="169.5" stroke="#000" stroke-width="0.9"/>
<line x1="204.9" y1="174.81" x2="206.3" y2="174.81" stroke="#000" stroke-width="0.9"/>
<line x1="326.8" y1="174.81" x2="325.4" y2="174.81" stroke="#000" stroke-width="0.9"/>
<line x1="204.9" y1="180.12" x2="206.3" y2="180.12" stroke="#000" stroke-width="0.9"/>
<line x1="326.8" y1="180.12" x2="325.4" y2="180.12" stroke="#000" stroke-width="0.9"/>
<line x1="204.9" y1="185.43" x2="206.3" y2="185.43" stroke="#000" stroke-width="0.9"/>
<line x1="326.8" y1="185.43" x2="325.4" y2="185.43" stroke="#000" stroke-width="0.9"/>
<line x1="204.9" y1="190.74" x2="206.3" y2="190.74" stroke="#000" stroke-width="0.9"/>
<line x1="326.8" y1="190.74" x2="325.4" y2="190.74" stroke="#000" stroke-width="0.9"/>
<line x1="204.9" y1="196.05" x2="207.1" y2="196.05" stroke="#000" stroke-width="0.9"/>
<line x1="326.8" y1="196.05" x2="324.6" y2="196.05" stroke="#000" stroke-width="0.9"/>
<line x1="204.9" y1="201.36" x2="206.3" y2="201.36" stroke="#000" stroke-width="0.9"/>
<line x1="326.8" y1="201.36" x2="325.4" y2="201.36" stroke="#000" stroke-width="0.9"/>
<line x1="204.9" y1="206.67" x2="206.3" y2="206.67" stroke="#000" stroke-width="0.9"/>
<line x1="326.8" y1="206.67" x2="325.4" y2="206.67" stroke="#000" stroke-width="0.9"/>
<line x1="204.9" y1="211.98" x2="206.3" y2="211.98" stroke="#000" stroke-width="0.9"/>
<line x1="326.8" y1="211.98" x2="325.4" y2="211.98" stroke="#000" stroke-width="0.9"/>
<line x1="204.9" y1="217.29" x2="206.3" y2="217.29" stroke="#000" stroke-width="0.9"/>
<line x1="326.8" y1="217.29" x2="325.4" y2="217.29" stroke="#000" stroke-width="0.9"/>
<line x1="204.9" y1="222.6" x2="207.1" y2="222.6" stroke="#000" stroke-width="0.9"/>
<line x1="326.8" y1="222.6" x2="324.6" y2="222.6" stroke="#000" stroke-width="0.9"/>
<path d="M33.5 74 L60 76.3 L80 78.5 L92 80.8 L98 83.5 L104.5 87.8 L110 93 L113 97.5 L116 102.5 L119.5 108 L122.5 112 L126 114 L130 114.8 L155 115" fill="none" stroke="#2a48ac" stroke-width="1.2" stroke-linejoin="round" />
<path d="M103 85.7L104.8 87.5L103 89.3L101.2 87.5Z" fill="#2a48ac" stroke="#2a48ac" stroke-width="0.6"/>
<path d="M104.5 86.5L106.3 88.3L104.5 90.1L102.7 88.3Z" fill="#2a48ac" stroke="#2a48ac" stroke-width="0.6"/>
<path d="M106 87.5L107.8 89.3L106 91.1L104.2 89.3Z" fill="#2a48ac" stroke="#2a48ac" stroke-width="0.6"/>
<path d="M107.5 88.4L109.3 90.2L107.5 92L105.7 90.2Z" fill="#2a48ac" stroke="#2a48ac" stroke-width="0.6"/>
<path d="M105 87.7L106.8 89.5L105 91.3L103.2 89.5Z" fill="#2a48ac" stroke="#2a48ac" stroke-width="0.6"/>
<path d="M103.5 87.7L105.3 89.5L103.5 91.3L101.7 89.5Z" fill="#2a48ac" stroke="#2a48ac" stroke-width="0.6"/>
<path d="M106.5 86.2L108.3 88L106.5 89.8L104.7 88Z" fill="#2a48ac" stroke="#2a48ac" stroke-width="0.6"/>
<path d="M115.5 98.2L117.3 100L115.5 101.8L113.7 100Z" fill="#2a48ac" stroke="#2a48ac" stroke-width="0.6"/>
<path d="M116.8 100.2L118.6 102L116.8 103.8L115 102Z" fill="#2a48ac" stroke="#2a48ac" stroke-width="0.6"/>
<path d="M117.8 102.2L119.6 104L117.8 105.8L116 104Z" fill="#2a48ac" stroke="#2a48ac" stroke-width="0.6"/>
<path d="M118.8 104.2L120.6 106L118.8 107.8L117 106Z" fill="#2a48ac" stroke="#2a48ac" stroke-width="0.6"/>
<path d="M119.8 106L121.6 107.8L119.8 109.6L118 107.8Z" fill="#2a48ac" stroke="#2a48ac" stroke-width="0.6"/>
<path d="M120.8 107.6L122.6 109.4L120.8 111.2L119 109.4Z" fill="#2a48ac" stroke="#2a48ac" stroke-width="0.6"/>
<path d="M121.8 109L123.6 110.8L121.8 112.6L120 110.8Z" fill="#2a48ac" stroke="#2a48ac" stroke-width="0.6"/>
<path d="M122.8 110.2L124.6 112L122.8 113.8L121 112Z" fill="#2a48ac" stroke="#2a48ac" stroke-width="0.6"/>
<path d="M118 100.8L119.8 102.6L118 104.4L116.2 102.6Z" fill="#2a48ac" stroke="#2a48ac" stroke-width="0.6"/>
<path d="M120 103.7L121.8 105.5L120 107.3L118.2 105.5Z" fill="#2a48ac" stroke="#2a48ac" stroke-width="0.6"/>
<path d="M121.5 106.2L123.3 108L121.5 109.8L119.7 108Z" fill="#2a48ac" stroke="#2a48ac" stroke-width="0.6"/>
<path d="M123 108.2L124.8 110L123 111.8L121.2 110Z" fill="#2a48ac" stroke="#2a48ac" stroke-width="0.6"/>
<path d="M124.2 111.4L126 113.2L124.2 115L122.4 113.2Z" fill="#2a48ac" stroke="#2a48ac" stroke-width="0.6"/>
<path d="M126 112.4L127.8 114.2L126 116L124.2 114.2Z" fill="#2a48ac" stroke="#2a48ac" stroke-width="0.6"/>
<path d="M128 113L129.8 114.8L128 116.6L126.2 114.8Z" fill="#2a48ac" stroke="#2a48ac" stroke-width="0.6"/>
<path d="M130 113.4L131.8 115.2L130 117L128.2 115.2Z" fill="#2a48ac" stroke="#2a48ac" stroke-width="0.6"/>
<path d="M133 113.6L134.8 115.4L133 117.2L131.2 115.4Z" fill="#2a48ac" stroke="#2a48ac" stroke-width="0.6"/>
<path d="M136 113.7L137.8 115.5L136 117.3L134.2 115.5Z" fill="#2a48ac" stroke="#2a48ac" stroke-width="0.6"/>
<path d="M139 113.8L140.8 115.6L139 117.4L137.2 115.6Z" fill="#2a48ac" stroke="#2a48ac" stroke-width="0.6"/>
<path d="M142 113.8L143.8 115.6L142 117.4L140.2 115.6Z" fill="#2a48ac" stroke="#2a48ac" stroke-width="0.6"/>
<path d="M146 113.9L147.8 115.7L146 117.5L144.2 115.7Z" fill="#2a48ac" stroke="#2a48ac" stroke-width="0.6"/>
<path d="M150 114L151.8 115.8L150 117.6L148.2 115.8Z" fill="#2a48ac" stroke="#2a48ac" stroke-width="0.6"/>
<path d="M125 110.5L126.5 112L125 113.5L123.5 112Z" fill="#2a48ac" stroke="#2a48ac" stroke-width="0.5"/>
<path d="M127 111.5L128.5 113L127 114.5L125.5 113Z" fill="#2a48ac" stroke="#2a48ac" stroke-width="0.5"/>
<path d="M131 112.5L132.5 114L131 115.5L129.5 114Z" fill="#2a48ac" stroke="#2a48ac" stroke-width="0.5"/>
<path d="M135 112.8L136.5 114.3L135 115.8L133.5 114.3Z" fill="#2a48ac" stroke="#2a48ac" stroke-width="0.5"/>
<path d="M124 114L125.5 115.5L124 117L122.5 115.5Z" fill="#2a48ac" stroke="#2a48ac" stroke-width="0.5"/>
<path d="M129 114.5L130.5 116L129 117.5L127.5 116Z" fill="#2a48ac" stroke="#2a48ac" stroke-width="0.5"/>
<path d="M33.5 35.7 L60 45.3 L80 52.6 L95 58.1 L100 60 L104.5 62.4 L108 65.7 L110.8 70.5 L113.5 76.8 L115.9 82.5 L118 88.5 L120 95 L122 101.5 L124.5 107.2 L127.5 111.2 L131 113.2 L135 113.8 L155 113.9" fill="none" stroke="#f41010" stroke-width="1.3" stroke-linejoin="round" />
<path d="M85 46.75L86.75 48.5L85 50.25L83.25 48.5Z" fill="none" stroke="#2a48ac" stroke-width="0.8"/>
<path d="M40 69.25L41.75 71L40 72.75L38.25 71Z" fill="none" stroke="#2a48ac" stroke-width="0.8"/>
<path d="M42 68.25L43.75 70L42 71.75L40.25 70Z" fill="none" stroke="#2a48ac" stroke-width="0.8"/>
<path d="M41 72.25L42.75 74L41 75.75L39.25 74Z" fill="none" stroke="#2a48ac" stroke-width="0.8"/>
<path d="M43 71.25L44.75 73L43 74.75L41.25 73Z" fill="none" stroke="#2a48ac" stroke-width="0.8"/>
<path d="M39.5 70.75L41.25 72.5L39.5 74.25L37.75 72.5Z" fill="none" stroke="#2a48ac" stroke-width="0.8"/>
<path d="M52 66.25L53.75 68L52 69.75L50.25 68Z" fill="none" stroke="#2a48ac" stroke-width="0.8"/>
<path d="M53 69.25L54.75 71L53 72.75L51.25 71Z" fill="none" stroke="#2a48ac" stroke-width="0.8"/>
<path d="M51 71.25L52.75 73L51 74.75L49.25 73Z" fill="none" stroke="#2a48ac" stroke-width="0.8"/>
<path d="M54 73.25L55.75 75L54 76.75L52.25 75Z" fill="none" stroke="#2a48ac" stroke-width="0.8"/>
<path d="M56.5 72.75L58.25 74.5L56.5 76.25L54.75 74.5Z" fill="none" stroke="#2a48ac" stroke-width="0.8"/>
<path d="M53 75.25L54.75 77L53 78.75L51.25 77Z" fill="none" stroke="#2a48ac" stroke-width="0.8"/>
<path d="M49.5 79.75L51.25 81.5L49.5 83.25L47.75 81.5Z" fill="none" stroke="#2a48ac" stroke-width="0.8"/>
<path d="M52 81.25L53.75 83L52 84.75L50.25 83Z" fill="none" stroke="#2a48ac" stroke-width="0.8"/>
<path d="M54.5 82.25L56.25 84L54.5 85.75L52.75 84Z" fill="none" stroke="#2a48ac" stroke-width="0.8"/>
<path d="M51 83.25L52.75 85L51 86.75L49.25 85Z" fill="none" stroke="#2a48ac" stroke-width="0.8"/>
<path d="M53.5 84.75L55.25 86.5L53.5 88.25L51.75 86.5Z" fill="none" stroke="#2a48ac" stroke-width="0.8"/>
<path d="M54 86.25L55.75 88L54 89.75L52.25 88Z" fill="none" stroke="#2a48ac" stroke-width="0.8"/>
<path d="M91.3 63.95L93.05 65.7L91.3 67.45L89.55 65.7Z" fill="none" stroke="#2a48ac" stroke-width="0.8"/>
<path d="M92.1 67.75L93.85 69.5L92.1 71.25L90.35 69.5Z" fill="none" stroke="#2a48ac" stroke-width="0.8"/>
<path d="M86.1 70.45L87.85 72.2L86.1 73.95L84.35 72.2Z" fill="none" stroke="#2a48ac" stroke-width="0.8"/>
<path d="M87.7 77.85L89.45 79.6L87.7 81.35L85.95 79.6Z" fill="none" stroke="#2a48ac" stroke-width="0.8"/>
<path d="M93 79.15L94.75 80.9L93 82.65L91.25 80.9Z" fill="none" stroke="#2a48ac" stroke-width="0.8"/>
<path d="M91 81.95L92.75 83.7L91 85.45L89.25 83.7Z" fill="none" stroke="#2a48ac" stroke-width="0.8"/>
<path d="M92.1 83.55L93.85 85.3L92.1 87.05L90.35 85.3Z" fill="none" stroke="#2a48ac" stroke-width="0.8"/>
<path d="M86.4 84.35L88.15 86.1L86.4 87.85L84.65 86.1Z" fill="none" stroke="#2a48ac" stroke-width="0.8"/>
<path d="M96.2 82.45L97.95 84.2L96.2 85.95L94.45 84.2Z" fill="none" stroke="#2a48ac" stroke-width="0.8"/>
<path d="M98.2 77.05L99.95 78.8L98.2 80.55L96.45 78.8Z" fill="none" stroke="#2a48ac" stroke-width="0.8"/>
<path d="M96.2 86.85L97.95 88.6L96.2 90.35L94.45 88.6Z" fill="none" stroke="#2a48ac" stroke-width="0.8"/>
<path d="M98.7 87.95L100.45 89.7L98.7 91.45L96.95 89.7Z" fill="none" stroke="#2a48ac" stroke-width="0.8"/>
<path d="M97.9 91.75L99.65 93.5L97.9 95.25L96.15 93.5Z" fill="none" stroke="#2a48ac" stroke-width="0.8"/>
<path d="M84.8 94.15L86.55 95.9L84.8 97.65L83.05 95.9Z" fill="none" stroke="#2a48ac" stroke-width="0.8"/>
<path d="M109.6 84.35L111.35 86.1L109.6 87.85L107.85 86.1Z" fill="none" stroke="#2a48ac" stroke-width="0.8"/>
<path d="M100.3 86.85L102.05 88.6L100.3 90.35L98.55 88.6Z" fill="none" stroke="#2a48ac" stroke-width="0.8"/>
<path d="M111.3 101.05L113.05 102.8L111.3 104.55L109.55 102.8Z" fill="none" stroke="#2a48ac" stroke-width="0.8"/>
<path d="M115.4 95.25L117.15 97L115.4 98.75L113.65 97Z" fill="none" stroke="#2a48ac" stroke-width="0.8"/>
<path d="M101.5 87.95L103.25 89.7L101.5 91.45L99.75 89.7Z" fill="none" stroke="#2a48ac" stroke-width="0.8"/>
<path d="M117 98.25L118.75 100L117 101.75L115.25 100Z" fill="none" stroke="#2a48ac" stroke-width="0.8"/>
<path d="M113 102.75L114.75 104.5L113 106.25L111.25 104.5Z" fill="none" stroke="#2a48ac" stroke-width="0.8"/>
<path d="M118 107.25L119.75 109L118 110.75L116.25 109Z" fill="none" stroke="#2a48ac" stroke-width="0.8"/>
<path d="M121 104.25L122.75 106L121 107.75L119.25 106Z" fill="none" stroke="#2a48ac" stroke-width="0.8"/>
<path d="M124.5 109.25L126.25 111L124.5 112.75L122.75 111Z" fill="none" stroke="#2a48ac" stroke-width="0.8"/>
<path d="M139 111.75L140.75 113.5L139 115.25L137.25 113.5Z" fill="none" stroke="#2a48ac" stroke-width="0.8"/>
<path d="M143 112.25L144.75 114L143 115.75L141.25 114Z" fill="none" stroke="#2a48ac" stroke-width="0.8"/>
<path d="M148 112.75L149.75 114.5L148 116.25L146.25 114.5Z" fill="none" stroke="#2a48ac" stroke-width="0.8"/>
<path d="M58.7 5.85L60.25 7.4L58.7 8.95L57.15 7.4Z" fill="none" stroke="#000" stroke-width="0.95"/>
<path d="M58.7 32.75L60.25 34.3L58.7 35.85L57.15 34.3Z" fill="none" stroke="#000" stroke-width="0.95"/>
<path d="M78.3 36.95L79.85 38.5L78.3 40.05L76.75 38.5Z" fill="none" stroke="#000" stroke-width="0.95"/>
<path d="M72.7 45.05L74.25 46.6L72.7 48.15L71.15 46.6Z" fill="none" stroke="#000" stroke-width="0.95"/>
<path d="M77.6 45.05L79.15 46.6L77.6 48.15L76.05 46.6Z" fill="none" stroke="#000" stroke-width="0.95"/>
<path d="M58.7 49.95L60.25 51.5L58.7 53.05L57.15 51.5Z" fill="none" stroke="#000" stroke-width="0.95"/>
<path d="M58.7 53.55L60.25 55.1L58.7 56.65L57.15 55.1Z" fill="none" stroke="#000" stroke-width="0.95"/>
<path d="M77.3 52.85L78.85 54.4L77.3 55.95L75.75 54.4Z" fill="none" stroke="#000" stroke-width="0.95"/>
<path d="M69.7 59.25L71.25 60.8L69.7 62.35L68.15 60.8Z" fill="none" stroke="#000" stroke-width="0.95"/>
<path d="M72.2 64.15L73.75 65.7L72.2 67.25L70.65 65.7Z" fill="none" stroke="#000" stroke-width="0.95"/>
<path d="M77.9 73.95L79.45 75.5L77.9 77.05L76.35 75.5Z" fill="none" stroke="#000" stroke-width="0.95"/>
<path d="M110.5 58.15L112.05 59.7L110.5 61.25L108.95 59.7Z" fill="none" stroke="#000" stroke-width="0.95"/>
<path d="M104.5 62.25L106.05 63.8L104.5 65.35L102.95 63.8Z" fill="none" stroke="#000" stroke-width="0.95"/>
<path d="M110.5 64.65L112.05 66.2L110.5 67.75L108.95 66.2Z" fill="none" stroke="#000" stroke-width="0.95"/>
<path d="M104 76.95L105.55 78.5L104 80.05L102.45 78.5Z" fill="none" stroke="#000" stroke-width="0.95"/>
<path d="M110.5 80.65L112.05 82.2L110.5 83.75L108.95 82.2Z" fill="none" stroke="#000" stroke-width="0.95"/>
<path d="M116.4 76.25L117.95 77.8L116.4 79.35L114.85 77.8Z" fill="none" stroke="#000" stroke-width="0.95"/>
<path d="M116.2 78.95L117.75 80.5L116.2 82.05L114.65 80.5Z" fill="none" stroke="#000" stroke-width="0.95"/>
<path d="M115.6 82.65L117.15 84.2L115.6 85.75L114.05 84.2Z" fill="none" stroke="#000" stroke-width="0.95"/>
<path d="M122.4 90.55L123.95 92.1L122.4 93.65L120.85 92.1Z" fill="none" stroke="#000" stroke-width="0.95"/>
<path d="M127.7 106.15L129.25 107.7L127.7 109.25L126.15 107.7Z" fill="none" stroke="#000" stroke-width="0.95"/>
<path d="M147.8 107.45L149.35 109L147.8 110.55L146.25 109Z" fill="none" stroke="#000" stroke-width="0.95"/>
<path d="M147.8 109.35L149.35 110.9L147.8 112.45L146.25 110.9Z" fill="none" stroke="#000" stroke-width="0.95"/>
<path d="M104.5 55.4L106.3 57.2L104.5 59L102.7 57.2Z" fill="#000" stroke="#000" stroke-width="0.8"/>
<path d="M33.5 137.5 L60 141.5 L80 145 L90 146.8 L96.3 148 L101.2 150.4 L106.1 155.3 L109.4 160.2 L112.7 166.7 L114.5 172 L116.5 180 L118.8 189 L120.5 195 L122.4 200.2 L124.5 205 L127 209.4 L131.6 215 L139 217.7 L155 218.6" fill="none" stroke="#2a48ac" stroke-width="1.3" stroke-linejoin="round" />
<path d="M33.5 200 L60 201.6 L80 203.3 L93 205.4 L104 208.5 L115 212 L126 216.3 L135 219 L145 219.8 L155 220.2" fill="none" stroke="#f41010" stroke-width="1.3" stroke-linejoin="round" />
<path d="M40.6 121.7L42.4 123.5L40.6 125.3L38.8 123.5Z" fill="none" stroke="#2a48ac" stroke-width="0.75"/>
<path d="M40 126L41.8 127.8L40 129.6L38.2 127.8Z" fill="none" stroke="#2a48ac" stroke-width="0.75"/>
<path d="M39 127.7L40.8 129.5L39 131.3L37.2 129.5Z" fill="none" stroke="#2a48ac" stroke-width="0.75"/>
<path d="M51.4 117.7L53.2 119.5L51.4 121.3L49.6 119.5Z" fill="none" stroke="#2a48ac" stroke-width="0.75"/>
<path d="M53.5 149.8L55.3 151.6L53.5 153.4L51.7 151.6Z" fill="none" stroke="#2a48ac" stroke-width="0.75"/>
<path d="M53.5 153L55.3 154.8L53.5 156.6L51.7 154.8Z" fill="none" stroke="#2a48ac" stroke-width="0.75"/>
<path d="M54 155.7L55.8 157.5L54 159.3L52.2 157.5Z" fill="none" stroke="#2a48ac" stroke-width="0.75"/>
<path d="M86.2 133.1L88 134.9L86.2 136.7L84.4 134.9Z" fill="none" stroke="#2a48ac" stroke-width="0.75"/>
<path d="M86.2 135L88 136.8L86.2 138.6L84.4 136.8Z" fill="none" stroke="#2a48ac" stroke-width="0.75"/>
<path d="M85.7 138L87.5 139.8L85.7 141.6L83.9 139.8Z" fill="none" stroke="#2a48ac" stroke-width="0.75"/>
<path d="M87.3 139.6L89.1 141.4L87.3 143.2L85.5 141.4Z" fill="none" stroke="#2a48ac" stroke-width="0.75"/>
<path d="M96.3 140.4L98.1 142.2L96.3 144L94.5 142.2Z" fill="none" stroke="#2a48ac" stroke-width="0.75"/>
<path d="M84.1 147.5L85.9 149.3L84.1 151.1L82.3 149.3Z" fill="none" stroke="#2a48ac" stroke-width="0.75"/>
<path d="M92.2 149.4L94 151.2L92.2 153L90.4 151.2Z" fill="none" stroke="#2a48ac" stroke-width="0.75"/>
<path d="M91.4 152.7L93.2 154.5L91.4 156.3L89.6 154.5Z" fill="none" stroke="#2a48ac" stroke-width="0.75"/>
<path d="M92.2 154.2L94 156L92.2 157.8L90.4 156Z" fill="none" stroke="#2a48ac" stroke-width="0.75"/>
<path d="M97.1 154.3L98.9 156.1L97.1 157.9L95.3 156.1Z" fill="none" stroke="#2a48ac" stroke-width="0.75"/>
<path d="M93.9 156.3L95.7 158.1L93.9 159.9L92.1 158.1Z" fill="none" stroke="#2a48ac" stroke-width="0.75"/>
<path d="M90.6 157.6L92.4 159.4L90.6 161.2L88.8 159.4Z" fill="none" stroke="#2a48ac" stroke-width="0.75"/>
<path d="M105.3 156.3L107.1 158.1L105.3 159.9L103.5 158.1Z" fill="none" stroke="#2a48ac" stroke-width="0.75"/>
<path d="M102 160L103.8 161.8L102 163.6L100.2 161.8Z" fill="none" stroke="#2a48ac" stroke-width="0.75"/>
<path d="M104.2 162.5L106 164.3L104.2 166.1L102.4 164.3Z" fill="none" stroke="#2a48ac" stroke-width="0.75"/>
<path d="M109.4 162.5L111.2 164.3L109.4 166.1L107.6 164.3Z" fill="none" stroke="#2a48ac" stroke-width="0.75"/>
<path d="M104.5 167.1L106.3 168.9L104.5 170.7L102.7 168.9Z" fill="none" stroke="#2a48ac" stroke-width="0.75"/>
<path d="M107.7 170.1L109.5 171.9L107.7 173.7L105.9 171.9Z" fill="none" stroke="#2a48ac" stroke-width="0.75"/>
<path d="M104 172.5L105.8 174.3L104 176.1L102.2 174.3Z" fill="none" stroke="#2a48ac" stroke-width="0.75"/>
<path d="M110.6 172.5L112.4 174.3L110.6 176.1L108.8 174.3Z" fill="none" stroke="#2a48ac" stroke-width="0.75"/>
<path d="M114.6 181.1L116.4 182.9L114.6 184.7L112.8 182.9Z" fill="none" stroke="#2a48ac" stroke-width="0.75"/>
<path d="M117.5 189.7L119.3 191.5L117.5 193.3L115.7 191.5Z" fill="none" stroke="#2a48ac" stroke-width="0.75"/>
<path d="M116.3 195.8L118.1 197.6L116.3 199.4L114.5 197.6Z" fill="none" stroke="#2a48ac" stroke-width="0.75"/>
<path d="M115 181L116.8 182.8L115 184.6L113.2 182.8Z" fill="none" stroke="#2a48ac" stroke-width="0.75"/>
<path d="M117 191.1L118.8 192.9L117 194.7L115.2 192.9Z" fill="none" stroke="#2a48ac" stroke-width="0.75"/>
<path d="M116 196.6L117.8 198.4L116 200.2L114.2 198.4Z" fill="none" stroke="#2a48ac" stroke-width="0.75"/>
<path d="M119 192.9L120.8 194.7L119 196.5L117.2 194.7Z" fill="none" stroke="#2a48ac" stroke-width="0.75"/>
<path d="M121.5 204.9L123.3 206.7L121.5 208.5L119.7 206.7Z" fill="none" stroke="#2a48ac" stroke-width="0.75"/>
<path d="M128.9 207.2L130.7 209L128.9 210.8L127.1 209Z" fill="none" stroke="#2a48ac" stroke-width="0.75"/>
<path d="M142.7 213.2L144.5 215L142.7 216.8L140.9 215Z" fill="none" stroke="#2a48ac" stroke-width="0.75"/>
<path d="M124 198.2L125.8 200L124 201.8L122.2 200Z" fill="none" stroke="#2a48ac" stroke-width="0.75"/>
<path d="M126 202.2L127.8 204L126 205.8L124.2 204Z" fill="none" stroke="#2a48ac" stroke-width="0.75"/>
<path d="M131 208.2L132.8 210L131 211.8L129.2 210Z" fill="none" stroke="#2a48ac" stroke-width="0.75"/>
<path d="M134 210.2L135.8 212L134 213.8L132.2 212Z" fill="none" stroke="#2a48ac" stroke-width="0.75"/>
<path d="M120 201.2L121.8 203L120 204.8L118.2 203Z" fill="none" stroke="#2a48ac" stroke-width="0.75"/>
<path d="M122 206.2L123.8 208L122 209.8L120.2 208Z" fill="none" stroke="#2a48ac" stroke-width="0.75"/>
<path d="M58.6 193.9L60.9 196.2L58.6 198.5L56.3 196.2Z" fill="none" stroke="#000" stroke-width="1.0"/>
<path d="M58.6 197L60.9 199.3L58.6 201.6L56.3 199.3Z" fill="none" stroke="#000" stroke-width="1.0"/>
<path d="M58.6 199.4L60.9 201.7L58.6 204L56.3 201.7Z" fill="none" stroke="#000" stroke-width="1.0"/>
<path d="M58.6 201.3L60.9 203.6L58.6 205.9L56.3 203.6Z" fill="none" stroke="#000" stroke-width="1.0"/>
<path d="M85.5 200.6L87.8 202.9L85.5 205.2L83.2 202.9Z" fill="none" stroke="#000" stroke-width="1.0"/>
<path d="M85.5 204.1L87.8 206.4L85.5 208.7L83.2 206.4Z" fill="none" stroke="#000" stroke-width="1.0"/>
<path d="M104 199.7L106.3 202L104 204.3L101.7 202Z" fill="none" stroke="#000" stroke-width="1.0"/>
<path d="M104 202.5L106.3 204.8L104 207.1L101.7 204.8Z" fill="none" stroke="#000" stroke-width="1.0"/>
<path d="M105 207.1L107.3 209.4L105 211.7L102.7 209.4Z" fill="none" stroke="#000" stroke-width="1.0"/>
<path d="M110.5 205.3L112.8 207.6L110.5 209.9L108.2 207.6Z" fill="none" stroke="#000" stroke-width="1.0"/>
<path d="M110.5 208.1L112.8 210.4L110.5 212.7L108.2 210.4Z" fill="none" stroke="#000" stroke-width="1.0"/>
<path d="M116 207.1L118.3 209.4L116 211.7L113.7 209.4Z" fill="none" stroke="#000" stroke-width="1.0"/>
<path d="M121.5 209.9L123.8 212.2L121.5 214.5L119.2 212.2Z" fill="none" stroke="#000" stroke-width="1.0"/>
<path d="M122 213.6L124.3 215.9L122 218.2L119.7 215.9Z" fill="none" stroke="#000" stroke-width="1.0"/>
<path d="M135.3 211.7L137.6 214L135.3 216.3L133 214Z" fill="none" stroke="#000" stroke-width="1.0"/>
<path d="M136.2 217.3L138.5 219.6L136.2 221.9L133.9 219.6Z" fill="none" stroke="#000" stroke-width="1.0"/>
<path d="M140.8 217.3L143.1 219.6L140.8 221.9L138.5 219.6Z" fill="none" stroke="#000" stroke-width="1.0"/>
<path d="M147.3 214.5L149.6 216.8L147.3 219.1L145 216.8Z" fill="none" stroke="#000" stroke-width="1.0"/>
<path d="M130 214.7L132.3 217L130 219.3L127.7 217Z" fill="none" stroke="#000" stroke-width="1.0"/>
<path d="M127 216.7L129.3 219L127 221.3L124.7 219Z" fill="none" stroke="#000" stroke-width="1.0"/>
<path d="M116 211.7L118.3 214L116 216.3L113.7 214Z" fill="#000" stroke="#000" stroke-width="0.8"/>
<path d="M46 127.4 L60 127.4" fill="none" stroke="#2a48ac" stroke-width="1.3" stroke-linejoin="round" />
<path d="M45.6 185.5 L61.2 185.5" fill="none" stroke="#f41010" stroke-width="1.2" stroke-linejoin="round" />
<path d="M49.4 183.4L51.5 185.5L49.4 187.6L47.3 185.5Z" fill="none" stroke="#000" stroke-width="0.9"/>
<path d="M56.7 183.4L58.8 185.5L56.7 187.6L54.6 185.5Z" fill="none" stroke="#000" stroke-width="0.9"/>
<line x1="250.3" y1="17.5" x2="250.3" y2="64" stroke="#000" stroke-width="0.8"/>
<line x1="252.3" y1="5" x2="252.3" y2="30" stroke="#888" stroke-width="1.0"/>
<line x1="252.3" y1="30" x2="252.3" y2="81" stroke="#000" stroke-width="0.8"/>
<line x1="253.5" y1="12" x2="253.5" y2="60" stroke="#999" stroke-width="1.0"/>
<line x1="254.2" y1="20" x2="254.2" y2="62" stroke="#222" stroke-width="0.8"/>
<line x1="255.3" y1="9" x2="255.3" y2="70" stroke="#999" stroke-width="1.0"/>
<line x1="256.7" y1="18" x2="256.7" y2="66" stroke="#000" stroke-width="0.8"/>
<line x1="257.6" y1="15" x2="257.6" y2="66" stroke="#aaa" stroke-width="1.0"/>
<line x1="258.6" y1="15" x2="258.6" y2="71" stroke="#888" stroke-width="1.0"/>
<line x1="259.5" y1="18" x2="259.5" y2="64" stroke="#222" stroke-width="0.8"/>
<line x1="260.4" y1="5.5" x2="260.4" y2="66" stroke="#888" stroke-width="1.0"/>
<line x1="261.4" y1="12" x2="261.4" y2="62" stroke="#aaa" stroke-width="1.0"/>
<line x1="262.4" y1="15" x2="262.4" y2="66" stroke="#888" stroke-width="1.0"/>
<line x1="263.5" y1="17.5" x2="263.5" y2="64" stroke="#999" stroke-width="1.0"/>
<line x1="264.5" y1="20" x2="264.5" y2="66" stroke="#888" stroke-width="1.0"/>
<line x1="265.5" y1="22" x2="265.5" y2="60" stroke="#aaa" stroke-width="1.0"/>
<line x1="266.4" y1="17" x2="266.4" y2="66" stroke="#888" stroke-width="1.0"/>
<line x1="267.5" y1="24" x2="267.5" y2="63" stroke="#aaa" stroke-width="1.0"/>
<line x1="268.5" y1="22" x2="268.5" y2="70" stroke="#777" stroke-width="1.0"/>
<line x1="269.4" y1="28" x2="269.4" y2="62" stroke="#222" stroke-width="0.8"/>
<line x1="270.4" y1="25" x2="270.4" y2="65" stroke="#999" stroke-width="1.0"/>
<line x1="271.6" y1="28" x2="271.6" y2="68" stroke="#888" stroke-width="1.0"/>
<line x1="272.6" y1="30" x2="272.6" y2="62" stroke="#aaa" stroke-width="1.0"/>
<line x1="273.6" y1="30" x2="273.6" y2="66" stroke="#888" stroke-width="1.0"/>
<line x1="275.6" y1="30" x2="275.6" y2="65" stroke="#000" stroke-width="0.8"/>
<line x1="276.7" y1="30" x2="276.7" y2="72" stroke="#888" stroke-width="1.0"/>
<line x1="277.7" y1="35" x2="277.7" y2="70" stroke="#999" stroke-width="1.0"/>
<line x1="278.7" y1="40" x2="278.7" y2="68" stroke="#888" stroke-width="1.0"/>
<line x1="280.5" y1="42" x2="280.5" y2="65" stroke="#999" stroke-width="1.0"/>
<line x1="281.8" y1="45" x2="281.8" y2="60" stroke="#888" stroke-width="1.0"/>
<line x1="283.5" y1="48" x2="283.5" y2="62" stroke="#aaa" stroke-width="1.0"/>
<line x1="285" y1="50" x2="285" y2="64" stroke="#999" stroke-width="1.0"/>
<line x1="286.5" y1="54" x2="286.5" y2="68" stroke="#aaa" stroke-width="1.0"/>
<line x1="288.3" y1="60" x2="288.3" y2="76" stroke="#999" stroke-width="1.0"/>
<line x1="290" y1="64" x2="290" y2="80" stroke="#aaa" stroke-width="1.0"/>
<rect x="252.85" y="25.05" width="3.9" height="3.9" fill="#ff0000"/>
<rect x="258.75" y="25.05" width="3.9" height="3.9" fill="#ff0000"/>
<rect x="259.45" y="27.95" width="3.9" height="3.9" fill="#ff0000"/>
<rect x="248.45" y="35.25" width="3.9" height="3.9" fill="#ff0000"/>
<rect x="250.65" y="36.05" width="3.9" height="3.9" fill="#ff0000"/>
<rect x="247.75" y="38.25" width="3.9" height="3.9" fill="#ff0000"/>
<rect x="255.85" y="33.05" width="3.9" height="3.9" fill="#ff0000"/>
<rect x="255.05" y="35.25" width="3.9" height="3.9" fill="#ff0000"/>
<rect x="256.55" y="36.75" width="3.9" height="3.9" fill="#ff0000"/>
<rect x="250.65" y="40.45" width="3.9" height="3.9" fill="#ff0000"/>
<rect x="257.25" y="38.95" width="3.9" height="3.9" fill="#ff0000"/>
<rect x="258.75" y="40.45" width="3.9" height="3.9" fill="#ff0000"/>
<rect x="261.65" y="33.85" width="3.9" height="3.9" fill="#ff0000"/>
<rect x="260.95" y="38.25" width="3.9" height="3.9" fill="#ff0000"/>
<rect x="249.95" y="45.55" width="3.9" height="3.9" fill="#ff0000"/>
<rect x="250.65" y="47.75" width="3.9" height="3.9" fill="#ff0000"/>
<rect x="249.95" y="51.45" width="3.9" height="3.9" fill="#ff0000"/>
<rect x="255.05" y="42.65" width="3.9" height="3.9" fill="#ff0000"/>
<rect x="262.85" y="33.45" width="3.9" height="3.9" fill="#ff0000"/>
<rect x="265.35" y="36.75" width="3.9" height="3.9" fill="#ff0000"/>
<rect x="263.65" y="40.05" width="3.9" height="3.9" fill="#ff0000"/>
<rect x="266.95" y="39.15" width="3.9" height="3.9" fill="#ff0000"/>
<rect x="270.25" y="35.15" width="3.9" height="3.9" fill="#ff0000"/>
<rect x="271.85" y="43.25" width="3.9" height="3.9" fill="#ff0000"/>
<rect x="268.55" y="44.95" width="3.9" height="3.9" fill="#ff0000"/>
<rect x="274.25" y="41.65" width="3.9" height="3.9" fill="#ff0000"/>
<rect x="276.75" y="44.95" width="3.9" height="3.9" fill="#ff0000"/>
<rect x="277.55" y="48.15" width="3.9" height="3.9" fill="#ff0000"/>
<rect x="275.15" y="48.15" width="3.9" height="3.9" fill="#ff0000"/>
<rect x="272.65" y="52.25" width="3.9" height="3.9" fill="#ff0000"/>
<rect x="280.05" y="50.65" width="3.9" height="3.9" fill="#ff0000"/>
<rect x="282.45" y="53.85" width="3.9" height="3.9" fill="#ff0000"/>
<rect x="284.95" y="57.15" width="3.9" height="3.9" fill="#ff0000"/>
<rect x="279.15" y="55.55" width="3.9" height="3.9" fill="#ff0000"/>
<rect x="286.55" y="59.65" width="3.9" height="3.9" fill="#ff0000"/>
<rect x="274.45" y="40.95" width="3.9" height="3.9" fill="#ff0000"/>
<rect x="276.65" y="43.05" width="3.9" height="3.9" fill="#ff0000"/>
<rect x="278.75" y="45.05" width="3.9" height="3.9" fill="#ff0000"/>
<rect x="274.55" y="46.65" width="3.9" height="3.9" fill="#ff0000"/>
<rect x="278.75" y="48.75" width="3.9" height="3.9" fill="#ff0000"/>
<rect x="281.65" y="50.65" width="3.9" height="3.9" fill="#ff0000"/>
<rect x="280.05" y="53.05" width="3.9" height="3.9" fill="#ff0000"/>
<rect x="281.65" y="55.95" width="3.9" height="3.9" fill="#ff0000"/>
<rect x="285.15" y="58.75" width="3.9" height="3.9" fill="#ff0000"/>
<rect x="285.95" y="60.95" width="3.9" height="3.9" fill="#ff0000"/>
<rect x="284.45" y="65.15" width="3.9" height="3.9" fill="#ff0000"/>
<rect x="287.35" y="67.35" width="3.9" height="3.9" fill="#ff0000"/>
<rect x="288.75" y="70.15" width="3.9" height="3.9" fill="#ff0000"/>
<rect x="289.45" y="71.65" width="3.9" height="3.9" fill="#ff0000"/>
<rect x="287.15" y="69.65" width="3.9" height="3.9" fill="#ff0000"/>
<rect x="292.05" y="75.95" width="3.9" height="3.9" fill="#ff0000"/>
<rect x="290.45" y="80.35" width="3.9" height="3.9" fill="#ff0000"/>
<rect x="293.65" y="84.45" width="3.9" height="3.9" fill="#ff0000"/>
<rect x="295.35" y="88.55" width="3.9" height="3.9" fill="#ff0000"/>
<rect x="297.75" y="93.45" width="3.9" height="3.9" fill="#ff0000"/>
<rect x="296.95" y="96.65" width="3.9" height="3.9" fill="#ff0000"/>
<rect x="301.05" y="98.35" width="3.9" height="3.9" fill="#ff0000"/>
<rect x="303.55" y="101.65" width="3.9" height="3.9" fill="#ff0000"/>
<rect x="305.15" y="100.75" width="3.9" height="3.9" fill="#ff0000"/>
<rect x="307.55" y="99.15" width="3.9" height="3.9" fill="#ff0000"/>
<rect x="302.65" y="103.25" width="3.9" height="3.9" fill="#ff0000"/>
<rect x="253.05" y="31.05" width="3.9" height="3.9" fill="#ff0000"/>
<rect x="264.05" y="44.05" width="3.9" height="3.9" fill="#ff0000"/>
<rect x="267.05" y="48.05" width="3.9" height="3.9" fill="#ff0000"/>
<rect x="260.05" y="43.05" width="3.9" height="3.9" fill="#ff0000"/>
<rect x="252.05" y="43.05" width="3.9" height="3.9" fill="#ff0000"/>
<rect x="248.05" y="42.05" width="3.9" height="3.9" fill="#ff0000"/>
<rect x="269.05" y="38.05" width="3.9" height="3.9" fill="#ff0000"/>
<rect x="251.85" y="32.55" width="3.9" height="3.9" fill="#ff0000"/>
<rect x="263.25" y="32.55" width="3.9" height="3.9" fill="#ff0000"/>
<rect x="270.65" y="32.55" width="3.9" height="3.9" fill="#ff0000"/>
<rect x="254.25" y="38.05" width="3.9" height="3.9" fill="#ff0000"/>
<rect x="262.45" y="37.55" width="3.9" height="3.9" fill="#ff0000"/>
<rect x="266.55" y="37.55" width="3.9" height="3.9" fill="#ff0000"/>
<rect x="271.45" y="38.05" width="3.9" height="3.9" fill="#ff0000"/>
<rect x="253.45" y="42.55" width="3.9" height="3.9" fill="#ff0000"/>
<rect x="263.25" y="42.55" width="3.9" height="3.9" fill="#ff0000"/>
<rect x="268.15" y="42.55" width="3.9" height="3.9" fill="#ff0000"/>
<rect x="273.05" y="42.55" width="3.9" height="3.9" fill="#ff0000"/>
<rect x="276.35" y="42.55" width="3.9" height="3.9" fill="#ff0000"/>
<rect x="254.25" y="48.05" width="3.9" height="3.9" fill="#ff0000"/>
<rect x="266.55" y="48.05" width="3.9" height="3.9" fill="#ff0000"/>
<rect x="269.85" y="48.05" width="3.9" height="3.9" fill="#ff0000"/>
<rect x="273.85" y="48.05" width="3.9" height="3.9" fill="#ff0000"/>
<rect x="277.15" y="50.05" width="3.9" height="3.9" fill="#ff0000"/>
<rect x="272.25" y="53.05" width="3.9" height="3.9" fill="#ff0000"/>
<rect x="277.15" y="53.05" width="3.9" height="3.9" fill="#ff0000"/>
<rect x="250.25" y="53.05" width="3.9" height="3.9" fill="#ff0000"/>
<line x1="252.3" y1="124.8" x2="252.3" y2="152.8" stroke="#888" stroke-width="0.65"/>
<line x1="256" y1="123.1" x2="256" y2="151.1" stroke="#888" stroke-width="0.65"/>
<line x1="259.8" y1="127.9" x2="259.8" y2="153.9" stroke="#888" stroke-width="0.65"/>
<line x1="262.8" y1="132.9" x2="262.8" y2="158.9" stroke="#888" stroke-width="0.65"/>
<line x1="266.4" y1="137" x2="266.4" y2="161" stroke="#888" stroke-width="0.65"/>
<line x1="269.2" y1="138.1" x2="269.2" y2="162.1" stroke="#888" stroke-width="0.65"/>
<line x1="271.6" y1="144" x2="271.6" y2="168" stroke="#888" stroke-width="0.65"/>
<line x1="274.9" y1="153" x2="274.9" y2="173" stroke="#888" stroke-width="0.65"/>
<line x1="278" y1="163.7" x2="278" y2="181.7" stroke="#888" stroke-width="0.65"/>
<line x1="280.5" y1="178.6" x2="280.5" y2="194.6" stroke="#888" stroke-width="0.65"/>
<line x1="284.3" y1="186.7" x2="284.3" y2="206.7" stroke="#888" stroke-width="0.65"/>
<line x1="286.8" y1="193.3" x2="286.8" y2="215.3" stroke="#888" stroke-width="0.65"/>
<line x1="290.1" y1="195.6" x2="290.1" y2="215.6" stroke="#888" stroke-width="0.65"/>
<line x1="293.2" y1="184.4" x2="293.2" y2="200.4" stroke="#888" stroke-width="0.65"/>
<line x1="295.7" y1="162.1" x2="295.7" y2="178.1" stroke="#888" stroke-width="0.65"/>
<line x1="298.8" y1="147.7" x2="298.8" y2="159.7" stroke="#888" stroke-width="0.65"/>
<line x1="301.9" y1="151.4" x2="301.9" y2="163.4" stroke="#888" stroke-width="0.65"/>
<line x1="304.2" y1="161.5" x2="304.2" y2="173.5" stroke="#888" stroke-width="0.65"/>
<line x1="307.9" y1="167.9" x2="307.9" y2="179.9" stroke="#888" stroke-width="0.65"/>
<line x1="311.6" y1="168.8" x2="311.6" y2="180.8" stroke="#888" stroke-width="0.65"/>
<path d="M247.3 170.2 L252.7 170.6 L259 171.8 L264 173.5 L269.1 175.8 L274.2 177.6 L279.2 179.8 L284.3 182.3 L288.3 184.4 L290.4 185 L292.3 180.5 L294.6 175.5 L297 169.5 L300.5 162.5 L302.8 161.5 L305.5 164.5 L308 167.5 L310 170 L311.5 173" fill="none" stroke="#129812" stroke-width="0.8" stroke-linejoin="round" />
<circle cx="247.09" cy="170.26" r="2" fill="none" stroke="#129812" stroke-width="0.6"/>
<circle cx="249.9" cy="170.55" r="2" fill="none" stroke="#129812" stroke-width="0.6"/>
<circle cx="252.8" cy="169.99" r="2" fill="none" stroke="#129812" stroke-width="0.6"/>
<circle cx="254.41" cy="171.47" r="2" fill="none" stroke="#129812" stroke-width="0.6"/>
<circle cx="256.71" cy="171.03" r="2" fill="none" stroke="#129812" stroke-width="0.6"/>
<circle cx="259.4" cy="171.76" r="2" fill="none" stroke="#129812" stroke-width="0.6"/>
<circle cx="261.77" cy="172.62" r="2" fill="none" stroke="#129812" stroke-width="0.6"/>
<circle cx="264.11" cy="173.01" r="2" fill="none" stroke="#129812" stroke-width="0.6"/>
<circle cx="266.66" cy="175.17" r="2" fill="none" stroke="#129812" stroke-width="0.6"/>
<circle cx="269.12" cy="176.14" r="2" fill="none" stroke="#129812" stroke-width="0.6"/>
<circle cx="271.79" cy="176.09" r="2" fill="none" stroke="#129812" stroke-width="0.6"/>
<circle cx="274.41" cy="177.73" r="2" fill="none" stroke="#129812" stroke-width="0.6"/>
<circle cx="276.54" cy="178.04" r="2" fill="none" stroke="#129812" stroke-width="0.6"/>
<circle cx="279.49" cy="179.76" r="2" fill="none" stroke="#129812" stroke-width="0.6"/>
<circle cx="281.93" cy="181.58" r="2" fill="none" stroke="#129812" stroke-width="0.6"/>
<circle cx="284.47" cy="182.89" r="2" fill="none" stroke="#129812" stroke-width="0.6"/>
<circle cx="286.22" cy="183.77" r="2" fill="none" stroke="#129812" stroke-width="0.6"/>
<circle cx="288.26" cy="185.01" r="2" fill="none" stroke="#129812" stroke-width="0.6"/>
<circle cx="290.7" cy="184.44" r="2" fill="none" stroke="#129812" stroke-width="0.6"/>
<circle cx="291.06" cy="182.35" r="2" fill="none" stroke="#129812" stroke-width="0.6"/>
<circle cx="292.67" cy="180.41" r="2" fill="none" stroke="#129812" stroke-width="0.6"/>
<circle cx="293.55" cy="177.72" r="2" fill="none" stroke="#129812" stroke-width="0.6"/>
<circle cx="294.61" cy="175.34" r="2" fill="none" stroke="#129812" stroke-width="0.6"/>
<circle cx="295.28" cy="173.62" r="2" fill="none" stroke="#129812" stroke-width="0.6"/>
<circle cx="296.27" cy="172.07" r="2" fill="none" stroke="#129812" stroke-width="0.6"/>
<circle cx="297.15" cy="170.1" r="2" fill="none" stroke="#129812" stroke-width="0.6"/>
<circle cx="298.16" cy="168.44" r="2" fill="none" stroke="#129812" stroke-width="0.6"/>
<circle cx="298.89" cy="165.53" r="2" fill="none" stroke="#129812" stroke-width="0.6"/>
<circle cx="299.91" cy="164.9" r="2" fill="none" stroke="#129812" stroke-width="0.6"/>
<circle cx="300.82" cy="162.6" r="2" fill="none" stroke="#129812" stroke-width="0.6"/>
<circle cx="302.97" cy="161.1" r="2" fill="none" stroke="#129812" stroke-width="0.6"/>
<circle cx="304.42" cy="163.1" r="2" fill="none" stroke="#129812" stroke-width="0.6"/>
<circle cx="305.33" cy="163.89" r="2" fill="none" stroke="#129812" stroke-width="0.6"/>
<circle cx="307.03" cy="166.69" r="2" fill="none" stroke="#129812" stroke-width="0.6"/>
<circle cx="307.67" cy="167.92" r="2" fill="none" stroke="#129812" stroke-width="0.6"/>
<circle cx="309.93" cy="169.51" r="2" fill="none" stroke="#129812" stroke-width="0.6"/>
<circle cx="311.34" cy="173.38" r="2" fill="none" stroke="#129812" stroke-width="0.6"/>
<path d="M252.3 138.8 L256 137.1 L259.8 140.9 L262.8 145.9 L266.4 149 L269.2 150.1 L271.6 156 L274.9 163 L278 172.7 L280.5 186.6 L284.3 196.7 L286.8 204.3 L290.1 205.6 L293.2 192.4 L295.7 170.1 L298.8 153.7 L301.9 157.4 L304.2 167.5 L307.9 173.9 L311.6 174.8" fill="none" stroke="#ff2020" stroke-width="0.9" stroke-linejoin="round" />
<circle cx="252.3" cy="138.8" r="2.6" fill="#ff0000" stroke="#ff0000" stroke-width="0.3"/>
<circle cx="256" cy="137.1" r="2.6" fill="#ff0000" stroke="#ff0000" stroke-width="0.3"/>
<circle cx="259.8" cy="140.9" r="2.6" fill="#ff0000" stroke="#ff0000" stroke-width="0.3"/>
<circle cx="262.8" cy="145.9" r="2.6" fill="#ff0000" stroke="#ff0000" stroke-width="0.3"/>
<circle cx="266.4" cy="149" r="2.6" fill="#ff0000" stroke="#ff0000" stroke-width="0.3"/>
<circle cx="269.2" cy="150.1" r="2.6" fill="#ff0000" stroke="#ff0000" stroke-width="0.3"/>
<circle cx="271.6" cy="156" r="2.6" fill="#ff0000" stroke="#ff0000" stroke-width="0.3"/>
<circle cx="274.9" cy="163" r="2.6" fill="#ff0000" stroke="#ff0000" stroke-width="0.3"/>
<circle cx="278" cy="172.7" r="2.6" fill="#ff0000" stroke="#ff0000" stroke-width="0.3"/>
<circle cx="280.5" cy="186.6" r="2.6" fill="#ff0000" stroke="#ff0000" stroke-width="0.3"/>
<circle cx="284.3" cy="196.7" r="2.6" fill="#ff0000" stroke="#ff0000" stroke-width="0.3"/>
<circle cx="286.8" cy="204.3" r="2.6" fill="#ff0000" stroke="#ff0000" stroke-width="0.3"/>
<circle cx="290.1" cy="205.6" r="2.6" fill="#ff0000" stroke="#ff0000" stroke-width="0.3"/>
<circle cx="293.2" cy="192.4" r="2.6" fill="#ff0000" stroke="#ff0000" stroke-width="0.3"/>
<circle cx="295.7" cy="170.1" r="2.6" fill="#ff0000" stroke="#ff0000" stroke-width="0.3"/>
<circle cx="298.8" cy="153.7" r="2.6" fill="#ff0000" stroke="#ff0000" stroke-width="0.3"/>
<circle cx="301.9" cy="157.4" r="2.6" fill="#ff0000" stroke="#ff0000" stroke-width="0.3"/>
<circle cx="304.2" cy="167.5" r="2.6" fill="#ff0000" stroke="#ff0000" stroke-width="0.3"/>
<circle cx="307.9" cy="173.9" r="2.6" fill="#ff0000" stroke="#ff0000" stroke-width="0.3"/>
<circle cx="311.6" cy="174.8" r="2.6" fill="#ff0000" stroke="#ff0000" stroke-width="0.3"/>
<circle cx="295.1" cy="169.3" r="2.6" fill="#ff0000" stroke="#ff0000" stroke-width="0.3"/>
<path d="M217.3 185.5 L231.6 185.5" fill="none" stroke="#ff0000" stroke-width="1" stroke-linejoin="round" />
<circle cx="221" cy="185.4" r="2.8" fill="#ff0000" stroke="#ff0000" stroke-width="0.3"/>
<circle cx="227.9" cy="185.4" r="2.8" fill="#ff0000" stroke="#ff0000" stroke-width="0.3"/>
<circle cx="220.6" cy="201.3" r="2.5" fill="none" stroke="#129812" stroke-width="0.85"/>
<circle cx="227.7" cy="201.3" r="2.5" fill="none" stroke="#129812" stroke-width="0.85"/>
<path d="M217.3 201.3 L231.6 201.3" fill="none" stroke="#129812" stroke-width="0.85" stroke-linejoin="round" />
<text x="31" y="7.2" font-size="8.3" fill="#000" font-weight="normal" text-anchor="end" font-family="Liberation Sans" >2.0</text>
<text x="31.2" y="34.9" font-size="8.3" fill="#000" font-weight="normal" text-anchor="end" font-family="Liberation Sans" >1.5</text>
<text x="29.7" y="62.9" font-size="8.3" fill="#000" font-weight="normal" text-anchor="end" font-family="Liberation Sans" >1.0</text>
<text x="28.9" y="90.8" font-size="8.3" fill="#000" font-weight="normal" text-anchor="end" font-family="Liberation Sans" >0.5</text>
<text x="31.2" y="116.3" font-size="8.3" fill="#000" font-weight="normal" text-anchor="end" font-family="Liberation Sans" >0</text>
<text x="24.8" y="21.1" font-size="8.3" fill="#000" font-weight="normal" text-anchor="end" font-family="Liberation Sans" >keV</text>
<text x="31" y="140.1" font-size="8.3" fill="#000" font-weight="normal" text-anchor="end" font-family="Liberation Sans" >4</text>
<text x="31" y="161" font-size="8.3" fill="#000" font-weight="normal" text-anchor="end" font-family="Liberation Sans" >3</text>
<text x="31" y="182" font-size="8.3" fill="#000" font-weight="normal" text-anchor="end" font-family="Liberation Sans" >2</text>
<text x="31" y="203.6" font-size="8.3" fill="#000" font-weight="normal" text-anchor="end" font-family="Liberation Sans" >1</text>
<text x="31" y="222.2" font-size="8.3" fill="#000" font-weight="normal" text-anchor="end" font-family="Liberation Sans" >0</text>
<text x="30" y="124.2" font-size="6.6" fill="#000" font-weight="normal" text-anchor="end" font-family="Liberation Sans" >-3</text>
<text x="3.5" y="132.4" font-size="9.4" fill="#000" font-weight="normal" text-anchor="start" font-family="Liberation Sans" >10</text>
<text x="12.5" y="125.7" font-size="6.9" fill="#000" font-weight="normal" text-anchor="start" font-family="Liberation Sans" >20</text>
<text x="17.8" y="132.4" font-size="9.2" fill="#000" font-weight="normal" text-anchor="start" font-family="Liberation Sans" >m</text>
<text transform="translate(202,8.9) scale(0.94,1)" font-size="8.3" fill="#000" font-weight="normal" text-anchor="end" font-family="Liberation Sans" >2.0</text>
<text transform="translate(202,35) scale(0.94,1)" font-size="8.3" fill="#000" font-weight="normal" text-anchor="end" font-family="Liberation Sans" >1.5</text>
<text transform="translate(202,63.3) scale(0.94,1)" font-size="8.3" fill="#000" font-weight="normal" text-anchor="end" font-family="Liberation Sans" >1.0</text>
<text transform="translate(202,91.5) scale(0.94,1)" font-size="8.3" fill="#000" font-weight="normal" text-anchor="end" font-family="Liberation Sans" >0.5</text>
<text transform="translate(202,116.8) scale(0.94,1)" font-size="8.3" fill="#000" font-weight="normal" text-anchor="end" font-family="Liberation Sans" >0</text>
<text transform="translate(194.5,21.5) scale(0.95,1)" font-size="8.3" fill="#000" font-weight="normal" text-anchor="end" font-family="Liberation Sans" >keV</text>
<text transform="translate(202,121.3) scale(0.94,1)" font-size="8.3" fill="#000" font-weight="normal" text-anchor="end" font-family="Liberation Sans" >100</text>
<text transform="translate(202,145.6) scale(0.94,1)" font-size="8.3" fill="#000" font-weight="normal" text-anchor="end" font-family="Liberation Sans" >50</text>
<text transform="translate(202,172) scale(0.94,1)" font-size="8.3" fill="#000" font-weight="normal" text-anchor="end" font-family="Liberation Sans" >0</text>
<text transform="translate(202,199.1) scale(0.94,1)" font-size="8.3" fill="#000" font-weight="normal" text-anchor="end" font-family="Liberation Sans" >-50</text>
<text transform="translate(202,223) scale(0.94,1)" font-size="8.3" fill="#000" font-weight="normal" text-anchor="end" font-family="Liberation Sans" >-100</text>
<text transform="translate(195.2,134.8) scale(0.95,1)" font-size="8.3" fill="#000" font-weight="normal" text-anchor="end" font-family="Liberation Sans" >kV/m</text>
<text x="33.5" y="232.8" font-size="8.3" fill="#000" font-weight="normal" text-anchor="middle" font-family="Liberation Sans" >0.85</text>
<text x="64" y="232.8" font-size="8.3" fill="#000" font-weight="normal" text-anchor="middle" font-family="Liberation Sans" >0.90</text>
<text x="94.5" y="232.8" font-size="8.3" fill="#000" font-weight="normal" text-anchor="middle" font-family="Liberation Sans" >0.95</text>
<text x="125" y="232.8" font-size="8.3" fill="#000" font-weight="normal" text-anchor="middle" font-family="Liberation Sans" >1.00</text>
<text x="155.5" y="232.8" font-size="8.3" fill="#000" font-weight="normal" text-anchor="middle" font-family="Liberation Sans" >1.05</text>
<text x="204.9" y="232.8" font-size="8.3" fill="#000" font-weight="normal" text-anchor="middle" font-family="Liberation Sans" >0.85</text>
<text x="235.4" y="232.8" font-size="8.3" fill="#000" font-weight="normal" text-anchor="middle" font-family="Liberation Sans" >0.90</text>
<text x="265.9" y="232.8" font-size="8.3" fill="#000" font-weight="normal" text-anchor="middle" font-family="Liberation Sans" >0.95</text>
<text x="296.4" y="232.8" font-size="8.3" fill="#000" font-weight="normal" text-anchor="middle" font-family="Liberation Sans" >1.00</text>
<text x="326.9" y="232.8" font-size="8.3" fill="#000" font-weight="normal" text-anchor="middle" font-family="Liberation Sans" >1.05</text>
<text x="89.5" y="240.9" font-size="11.5" fill="#000" font-weight="normal" text-anchor="start" font-family="Liberation Sans" >r</text>
<text x="97.3" y="240.9" font-size="11.5" fill="#000" font-weight="normal" text-anchor="start" font-family="Liberation Sans" >a</text>
<line x1="96.5" y1="232.6" x2="93.3" y2="243" stroke="#000" stroke-width="0.95"/>
<text x="261" y="240.9" font-size="11.5" fill="#000" font-weight="normal" text-anchor="start" font-family="Liberation Sans" >r</text>
<text x="268.9" y="240.9" font-size="11.5" fill="#000" font-weight="normal" text-anchor="start" font-family="Liberation Sans" >a</text>
<line x1="267.7" y1="232.6" x2="264.8" y2="243.6" stroke="#000" stroke-width="0.95"/>
<text x="41.4" y="105" font-size="10.5" fill="#000" font-weight="normal" text-anchor="start" font-family="Liberation Sans" >(a)</text>
<text x="42.8" y="216.2" font-size="10.5" fill="#000" font-weight="normal" text-anchor="start" font-family="Liberation Sans" >(b)</text>
<text x="211.4" y="102.5" font-size="10.5" fill="#000" font-weight="normal" text-anchor="start" font-family="Liberation Sans" >(c)</text>
<text x="213" y="133.7" font-size="10.5" fill="#000" font-weight="normal" text-anchor="start" font-family="Liberation Sans" >(d)</text>
<text x="116" y="27.4" font-size="9.6" fill="#000" font-weight="bold" text-anchor="start" font-family="Liberation Sans" >T<tspan font-size="8" dy="1.3">e</tspan></text>
<text x="115.1" y="146.5" font-size="8.6" fill="#000" font-weight="bold" text-anchor="start" font-family="Liberation Sans" >n<tspan font-size="8" dy="1.6">e</tspan></text>
<text x="297.8" y="22.3" font-size="9.3" fill="#000" font-weight="bold" text-anchor="start" font-family="Liberation Sans" >T<tspan font-size="8" dx="0.7" dy="1.5">i</tspan></text>
<text x="296.5" y="133.8" font-size="8.4" fill="#000" font-weight="bold" text-anchor="start" font-family="Liberation Sans" >E<tspan font-size="7.5" dy="1.6">r</tspan></text>
<text x="66.3" y="130.5" font-size="9.1" fill="#0000ff" font-weight="normal" text-anchor="start" font-family="Liberation Sans" >8 T EDA H-mode</text>
<text x="64.4" y="189.1" font-size="9.1" fill="#ff0000" font-weight="normal" text-anchor="start" font-family="Liberation Sans" >8 T <tspan font-family="Liberation Serif">I</tspan>-mode</text>
<text x="234.5" y="189.5" font-size="9.6" fill="#ff0000" font-weight="normal" text-anchor="start" font-family="Liberation Sans" textLength="40.9" lengthAdjust="spacingAndGlyphs">8 T <tspan font-family="Liberation Serif">I</tspan>-mode</text>
<text x="234.5" y="204.9" font-size="9.6" fill="#129812" font-weight="normal" text-anchor="start" font-family="Liberation Sans" textLength="48" lengthAdjust="spacingAndGlyphs">2.8 T <tspan font-family="Liberation Serif">I</tspan>-mode</text>
<text transform="translate(159.4,8.6) rotate(90)" font-size="8.2" font-family="Liberation Serif" stroke="#000" stroke-width="0.12" textLength="42" lengthAdjust="spacingAndGlyphs">1160923002</text>
<text transform="translate(159.4,54.4) rotate(90)" font-size="8.2" font-family="Liberation Serif" stroke="#000" stroke-width="0.12" textLength="43.6" lengthAdjust="spacingAndGlyphs">1160930014</text>
<text transform="translate(329.2,5.3) rotate(90)" font-size="8.2" font-family="Liberation Serif" stroke="#000" stroke-width="0.12" textLength="39.4" lengthAdjust="spacingAndGlyphs">1160923002</text>
<text transform="translate(329.2,48) rotate(90)" font-size="8.2" font-family="Liberation Serif" stroke="#000" stroke-width="0.12" textLength="38.1" lengthAdjust="spacingAndGlyphs">1140522022</text>
</svg>
</body></html>
